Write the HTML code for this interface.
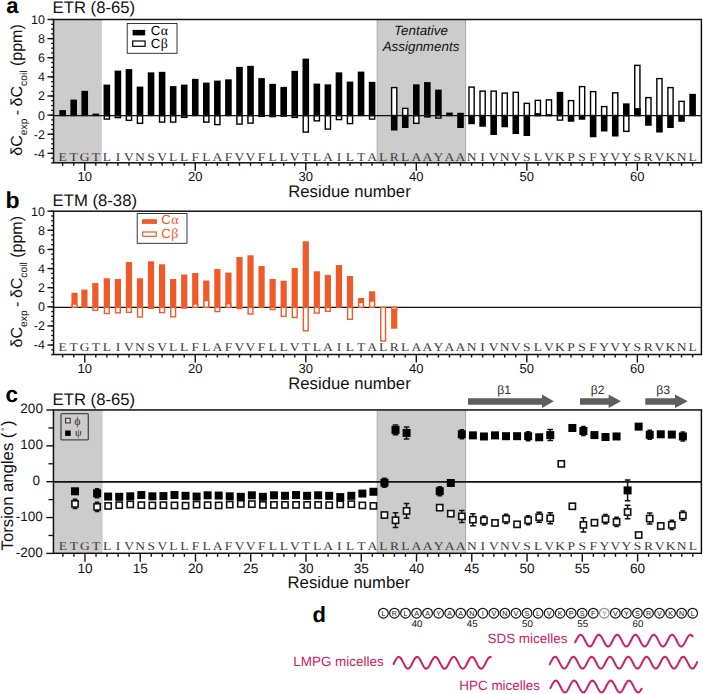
<!DOCTYPE html>
<html><head><meta charset="utf-8"><title>Figure</title>
<style>html,body{margin:0;padding:0;background:#fff;}svg{display:block;text-rendering:geometricPrecision;}.s{font-family:"Liberation Sans",sans-serif;}.m{font-family:"Liberation Mono",monospace;}.r{font-family:"Liberation Serif",serif;}</style>
</head><body>
<svg width="703" height="694" viewBox="0 0 703 694">
<rect width="703" height="694" fill="#fff"/>
<rect x="53.56" y="19.5" width="48.24" height="143.3" fill="#cccccc"/>
<rect x="377.2" y="19.5" width="88.4" height="143.3" fill="#cccccc"/>
<line x1="377.2" x2="377.2" y1="19.5" y2="162.8" stroke="#9a9a9a" stroke-width="0.8"/>
<line x1="465.6" x2="465.6" y1="19.5" y2="162.8" stroke="#9a9a9a" stroke-width="0.8"/>
<rect x="59.34" y="110.1" width="6.6" height="6.1" fill="#000"/>
<rect x="70.39" y="99.6" width="6.6" height="16.6" fill="#000"/>
<rect x="81.44" y="90.85" width="6.6" height="25.35" fill="#000"/>
<rect x="92.49" y="113.6" width="6.6" height="2.6" fill="#000"/>
<rect x="103.54" y="84.6" width="6.6" height="31.6" fill="#000"/>
<rect x="104.24" y="115.7" width="5.2" height="3.4" fill="#fff" stroke="#000" stroke-width="1.4"/>
<rect x="114.6" y="70.6" width="6.6" height="45.6" fill="#000"/>
<rect x="115.3" y="115.7" width="5.2" height="1.9" fill="#fff" stroke="#000" stroke-width="1.4"/>
<rect x="125.65" y="69.1" width="6.6" height="47.1" fill="#000"/>
<rect x="126.35" y="115.7" width="5.2" height="4.65" fill="#fff" stroke="#000" stroke-width="1.4"/>
<rect x="136.7" y="86.6" width="6.6" height="29.6" fill="#000"/>
<rect x="137.4" y="115.7" width="5.2" height="7.65" fill="#fff" stroke="#000" stroke-width="1.4"/>
<rect x="147.75" y="72.35" width="6.6" height="43.85" fill="#000"/>
<rect x="158.8" y="71.85" width="6.6" height="44.35" fill="#000"/>
<rect x="159.5" y="115.7" width="5.2" height="6.4" fill="#fff" stroke="#000" stroke-width="1.4"/>
<rect x="169.86" y="86.1" width="6.6" height="30.1" fill="#000"/>
<rect x="170.56" y="115.7" width="5.2" height="6.4" fill="#fff" stroke="#000" stroke-width="1.4"/>
<rect x="180.91" y="84.6" width="6.6" height="31.6" fill="#000"/>
<rect x="181.61" y="115.7" width="5.2" height="1.65" fill="#fff" stroke="#000" stroke-width="1.4"/>
<rect x="191.96" y="78.85" width="6.6" height="37.35" fill="#000"/>
<rect x="203.01" y="82.6" width="6.6" height="33.6" fill="#000"/>
<rect x="203.71" y="115.7" width="5.2" height="6.4" fill="#fff" stroke="#000" stroke-width="1.4"/>
<rect x="214.06" y="80.6" width="6.6" height="35.6" fill="#000"/>
<rect x="214.76" y="115.7" width="5.2" height="8.9" fill="#fff" stroke="#000" stroke-width="1.4"/>
<rect x="225.12" y="79.35" width="6.6" height="36.85" fill="#000"/>
<rect x="236.17" y="66.85" width="6.6" height="49.35" fill="#000"/>
<rect x="236.87" y="115.7" width="5.2" height="8.4" fill="#fff" stroke="#000" stroke-width="1.4"/>
<rect x="247.22" y="65.85" width="6.6" height="50.35" fill="#000"/>
<rect x="247.92" y="115.7" width="5.2" height="7.4" fill="#fff" stroke="#000" stroke-width="1.4"/>
<rect x="258.27" y="78.1" width="6.6" height="38.1" fill="#000"/>
<rect x="258.27" y="115" width="6.6" height="2.1" fill="#000"/>
<rect x="269.32" y="83.85" width="6.6" height="32.35" fill="#000"/>
<rect x="269.32" y="115" width="6.6" height="2.3" fill="#000"/>
<rect x="280.38" y="86.85" width="6.6" height="29.35" fill="#000"/>
<rect x="280.38" y="115" width="6.6" height="1.8" fill="#000"/>
<rect x="291.43" y="70.85" width="6.6" height="45.35" fill="#000"/>
<rect x="292.13" y="115.7" width="5.2" height="1.7" fill="#fff" stroke="#000" stroke-width="1.4"/>
<rect x="302.48" y="58.6" width="6.6" height="57.6" fill="#000"/>
<rect x="303.18" y="115.7" width="5.2" height="16.4" fill="#fff" stroke="#000" stroke-width="1.4"/>
<rect x="313.53" y="83.6" width="6.6" height="32.6" fill="#000"/>
<rect x="314.23" y="115.7" width="5.2" height="5.15" fill="#fff" stroke="#000" stroke-width="1.4"/>
<rect x="324.58" y="84.35" width="6.6" height="31.85" fill="#000"/>
<rect x="325.28" y="115.7" width="5.2" height="13.4" fill="#fff" stroke="#000" stroke-width="1.4"/>
<rect x="335.64" y="72.35" width="6.6" height="43.85" fill="#000"/>
<rect x="336.34" y="115.7" width="5.2" height="3.9" fill="#fff" stroke="#000" stroke-width="1.4"/>
<rect x="346.69" y="81.6" width="6.6" height="34.6" fill="#000"/>
<rect x="347.39" y="115.7" width="5.2" height="7.9" fill="#fff" stroke="#000" stroke-width="1.4"/>
<rect x="357.74" y="71.6" width="6.6" height="44.6" fill="#000"/>
<rect x="368.79" y="81.85" width="6.6" height="34.35" fill="#000"/>
<rect x="369.49" y="115.7" width="5.2" height="3.4" fill="#fff" stroke="#000" stroke-width="1.4"/>
<rect x="391.6" y="87.6" width="5.2" height="27.9" fill="#fff" stroke="#000" stroke-width="1.4"/>
<rect x="390.9" y="115" width="6.6" height="15.5" fill="#000"/>
<rect x="401.95" y="115" width="6.6" height="13" fill="#000"/>
<rect x="402.65" y="108.35" width="5.2" height="7.15" fill="#fff" stroke="#000" stroke-width="1.4"/>
<rect x="413" y="84.35" width="6.6" height="31.85" fill="#000"/>
<rect x="413.7" y="115.7" width="5.2" height="7.65" fill="#fff" stroke="#000" stroke-width="1.4"/>
<rect x="424.05" y="82.1" width="6.6" height="34.1" fill="#000"/>
<rect x="424.75" y="115.7" width="5.2" height="1.2" fill="#fff" stroke="#000" stroke-width="1.4"/>
<rect x="435.1" y="89.6" width="6.6" height="26.6" fill="#000"/>
<rect x="435.8" y="115.7" width="5.2" height="2.4" fill="#fff" stroke="#000" stroke-width="1.4"/>
<rect x="446.16" y="112.6" width="6.6" height="3.6" fill="#000"/>
<rect x="457.21" y="115" width="6.6" height="13" fill="#000"/>
<rect x="468.96" y="87.1" width="5.2" height="28.4" fill="#fff" stroke="#000" stroke-width="1.4"/>
<rect x="468.26" y="115" width="6.6" height="9.25" fill="#000"/>
<rect x="480.01" y="91.1" width="5.2" height="24.4" fill="#fff" stroke="#000" stroke-width="1.4"/>
<rect x="479.31" y="115" width="6.6" height="11.75" fill="#000"/>
<rect x="491.06" y="91.1" width="5.2" height="24.4" fill="#fff" stroke="#000" stroke-width="1.4"/>
<rect x="490.36" y="115" width="6.6" height="20" fill="#000"/>
<rect x="502.12" y="93.1" width="5.2" height="22.4" fill="#fff" stroke="#000" stroke-width="1.4"/>
<rect x="501.42" y="115" width="6.6" height="12.25" fill="#000"/>
<rect x="513.17" y="92.35" width="5.2" height="23.15" fill="#fff" stroke="#000" stroke-width="1.4"/>
<rect x="512.47" y="115" width="6.6" height="19" fill="#000"/>
<rect x="523.52" y="115" width="6.6" height="21" fill="#000"/>
<rect x="524.22" y="103.35" width="5.2" height="12.15" fill="#fff" stroke="#000" stroke-width="1.4"/>
<rect x="535.27" y="100.35" width="5.2" height="15.15" fill="#fff" stroke="#000" stroke-width="1.4"/>
<rect x="534.57" y="113.1" width="6.6" height="3.1" fill="#000"/>
<rect x="546.32" y="99.85" width="5.2" height="15.65" fill="#fff" stroke="#000" stroke-width="1.4"/>
<rect x="545.62" y="114.1" width="6.6" height="2.1" fill="#000"/>
<rect x="556.68" y="91.85" width="6.6" height="24.35" fill="#000"/>
<rect x="557.38" y="115.7" width="5.2" height="4.4" fill="#fff" stroke="#000" stroke-width="1.4"/>
<rect x="568.43" y="100.6" width="5.2" height="14.9" fill="#fff" stroke="#000" stroke-width="1.4"/>
<rect x="567.73" y="115" width="6.6" height="6.75" fill="#000"/>
<rect x="579.48" y="86.6" width="5.2" height="28.9" fill="#fff" stroke="#000" stroke-width="1.4"/>
<rect x="578.78" y="115" width="6.6" height="4.75" fill="#000"/>
<rect x="590.53" y="91.6" width="5.2" height="23.9" fill="#fff" stroke="#000" stroke-width="1.4"/>
<rect x="589.83" y="115" width="6.6" height="22.25" fill="#000"/>
<rect x="600.88" y="115" width="6.6" height="16.5" fill="#000"/>
<rect x="601.58" y="106.6" width="5.2" height="8.9" fill="#fff" stroke="#000" stroke-width="1.4"/>
<rect x="612.64" y="92.85" width="5.2" height="22.65" fill="#fff" stroke="#000" stroke-width="1.4"/>
<rect x="611.94" y="115" width="6.6" height="21.5" fill="#000"/>
<rect x="623.69" y="115.7" width="5.2" height="15.65" fill="#fff" stroke="#000" stroke-width="1.4"/>
<rect x="622.99" y="103.35" width="6.6" height="12.85" fill="#000"/>
<rect x="634.74" y="65.35" width="5.2" height="50.15" fill="#fff" stroke="#000" stroke-width="1.4"/>
<rect x="634.04" y="108.1" width="6.6" height="8.1" fill="#000"/>
<rect x="645.79" y="97.6" width="5.2" height="17.9" fill="#fff" stroke="#000" stroke-width="1.4"/>
<rect x="645.09" y="115" width="6.6" height="10.75" fill="#000"/>
<rect x="656.84" y="78.6" width="5.2" height="36.9" fill="#fff" stroke="#000" stroke-width="1.4"/>
<rect x="656.14" y="115" width="6.6" height="17.5" fill="#000"/>
<rect x="667.9" y="87.6" width="5.2" height="27.9" fill="#fff" stroke="#000" stroke-width="1.4"/>
<rect x="667.2" y="115" width="6.6" height="13" fill="#000"/>
<rect x="678.95" y="101.35" width="5.2" height="14.15" fill="#fff" stroke="#000" stroke-width="1.4"/>
<rect x="678.25" y="115" width="6.6" height="6.75" fill="#000"/>
<rect x="689.3" y="93.85" width="6.6" height="22.35" fill="#000"/>
<rect x="457.21" y="112.8" width="6.6" height="3" fill="#000"/>
<text transform="translate(62.64,160.6) scale(1.14,1)" class="r" font-size="11.9" fill="#3a3a3a" text-anchor="middle">E</text>
<text transform="translate(73.69,160.6) scale(1.14,1)" class="r" font-size="11.9" fill="#3a3a3a" text-anchor="middle">T</text>
<text transform="translate(84.74,160.6) scale(1.14,1)" class="r" font-size="11.9" fill="#3a3a3a" text-anchor="middle">G</text>
<text transform="translate(95.79,160.6) scale(1.14,1)" class="r" font-size="11.9" fill="#3a3a3a" text-anchor="middle">T</text>
<text transform="translate(106.84,160.6) scale(1.14,1)" class="r" font-size="11.9" fill="#3a3a3a" text-anchor="middle">L</text>
<text transform="translate(117.9,160.6) scale(1.14,1)" class="r" font-size="11.9" fill="#3a3a3a" text-anchor="middle">I</text>
<text transform="translate(128.95,160.6) scale(1.14,1)" class="r" font-size="11.9" fill="#3a3a3a" text-anchor="middle">V</text>
<text transform="translate(140,160.6) scale(1.14,1)" class="r" font-size="11.9" fill="#3a3a3a" text-anchor="middle">N</text>
<text transform="translate(151.05,160.6) scale(1.14,1)" class="r" font-size="11.9" fill="#3a3a3a" text-anchor="middle">S</text>
<text transform="translate(162.1,160.6) scale(1.14,1)" class="r" font-size="11.9" fill="#3a3a3a" text-anchor="middle">V</text>
<text transform="translate(173.16,160.6) scale(1.14,1)" class="r" font-size="11.9" fill="#3a3a3a" text-anchor="middle">L</text>
<text transform="translate(184.21,160.6) scale(1.14,1)" class="r" font-size="11.9" fill="#3a3a3a" text-anchor="middle">L</text>
<text transform="translate(195.26,160.6) scale(1.14,1)" class="r" font-size="11.9" fill="#3a3a3a" text-anchor="middle">F</text>
<text transform="translate(206.31,160.6) scale(1.14,1)" class="r" font-size="11.9" fill="#3a3a3a" text-anchor="middle">L</text>
<text transform="translate(217.36,160.6) scale(1.14,1)" class="r" font-size="11.9" fill="#3a3a3a" text-anchor="middle">A</text>
<text transform="translate(228.42,160.6) scale(1.14,1)" class="r" font-size="11.9" fill="#3a3a3a" text-anchor="middle">F</text>
<text transform="translate(239.47,160.6) scale(1.14,1)" class="r" font-size="11.9" fill="#3a3a3a" text-anchor="middle">V</text>
<text transform="translate(250.52,160.6) scale(1.14,1)" class="r" font-size="11.9" fill="#3a3a3a" text-anchor="middle">V</text>
<text transform="translate(261.57,160.6) scale(1.14,1)" class="r" font-size="11.9" fill="#3a3a3a" text-anchor="middle">F</text>
<text transform="translate(272.62,160.6) scale(1.14,1)" class="r" font-size="11.9" fill="#3a3a3a" text-anchor="middle">L</text>
<text transform="translate(283.68,160.6) scale(1.14,1)" class="r" font-size="11.9" fill="#3a3a3a" text-anchor="middle">L</text>
<text transform="translate(294.73,160.6) scale(1.14,1)" class="r" font-size="11.9" fill="#3a3a3a" text-anchor="middle">V</text>
<text transform="translate(305.78,160.6) scale(1.14,1)" class="r" font-size="11.9" fill="#3a3a3a" text-anchor="middle">T</text>
<text transform="translate(316.83,160.6) scale(1.14,1)" class="r" font-size="11.9" fill="#3a3a3a" text-anchor="middle">L</text>
<text transform="translate(327.88,160.6) scale(1.14,1)" class="r" font-size="11.9" fill="#3a3a3a" text-anchor="middle">A</text>
<text transform="translate(338.94,160.6) scale(1.14,1)" class="r" font-size="11.9" fill="#3a3a3a" text-anchor="middle">I</text>
<text transform="translate(349.99,160.6) scale(1.14,1)" class="r" font-size="11.9" fill="#3a3a3a" text-anchor="middle">L</text>
<text transform="translate(361.04,160.6) scale(1.14,1)" class="r" font-size="11.9" fill="#3a3a3a" text-anchor="middle">T</text>
<text transform="translate(372.09,160.6) scale(1.14,1)" class="r" font-size="11.9" fill="#3a3a3a" text-anchor="middle">A</text>
<text transform="translate(383.14,160.6) scale(1.14,1)" class="r" font-size="11.9" fill="#3a3a3a" text-anchor="middle">L</text>
<text transform="translate(394.2,160.6) scale(1.14,1)" class="r" font-size="11.9" fill="#3a3a3a" text-anchor="middle">R</text>
<text transform="translate(405.25,160.6) scale(1.14,1)" class="r" font-size="11.9" fill="#3a3a3a" text-anchor="middle">L</text>
<text transform="translate(416.3,160.6) scale(1.14,1)" class="r" font-size="11.9" fill="#3a3a3a" text-anchor="middle">A</text>
<text transform="translate(427.35,160.6) scale(1.14,1)" class="r" font-size="11.9" fill="#3a3a3a" text-anchor="middle">A</text>
<text transform="translate(438.4,160.6) scale(1.14,1)" class="r" font-size="11.9" fill="#3a3a3a" text-anchor="middle">Y</text>
<text transform="translate(449.46,160.6) scale(1.14,1)" class="r" font-size="11.9" fill="#3a3a3a" text-anchor="middle">A</text>
<text transform="translate(460.51,160.6) scale(1.14,1)" class="r" font-size="11.9" fill="#3a3a3a" text-anchor="middle">A</text>
<text transform="translate(471.56,160.6) scale(1.14,1)" class="r" font-size="11.9" fill="#3a3a3a" text-anchor="middle">N</text>
<text transform="translate(482.61,160.6) scale(1.14,1)" class="r" font-size="11.9" fill="#3a3a3a" text-anchor="middle">I</text>
<text transform="translate(493.66,160.6) scale(1.14,1)" class="r" font-size="11.9" fill="#3a3a3a" text-anchor="middle">V</text>
<text transform="translate(504.72,160.6) scale(1.14,1)" class="r" font-size="11.9" fill="#3a3a3a" text-anchor="middle">N</text>
<text transform="translate(515.77,160.6) scale(1.14,1)" class="r" font-size="11.9" fill="#3a3a3a" text-anchor="middle">V</text>
<text transform="translate(526.82,160.6) scale(1.14,1)" class="r" font-size="11.9" fill="#3a3a3a" text-anchor="middle">S</text>
<text transform="translate(537.87,160.6) scale(1.14,1)" class="r" font-size="11.9" fill="#3a3a3a" text-anchor="middle">L</text>
<text transform="translate(548.92,160.6) scale(1.14,1)" class="r" font-size="11.9" fill="#3a3a3a" text-anchor="middle">V</text>
<text transform="translate(559.98,160.6) scale(1.14,1)" class="r" font-size="11.9" fill="#3a3a3a" text-anchor="middle">K</text>
<text transform="translate(571.03,160.6) scale(1.14,1)" class="r" font-size="11.9" fill="#3a3a3a" text-anchor="middle">P</text>
<text transform="translate(582.08,160.6) scale(1.14,1)" class="r" font-size="11.9" fill="#3a3a3a" text-anchor="middle">S</text>
<text transform="translate(593.13,160.6) scale(1.14,1)" class="r" font-size="11.9" fill="#3a3a3a" text-anchor="middle">F</text>
<text transform="translate(604.18,160.6) scale(1.14,1)" class="r" font-size="11.9" fill="#3a3a3a" text-anchor="middle">Y</text>
<text transform="translate(615.24,160.6) scale(1.14,1)" class="r" font-size="11.9" fill="#3a3a3a" text-anchor="middle">V</text>
<text transform="translate(626.29,160.6) scale(1.14,1)" class="r" font-size="11.9" fill="#3a3a3a" text-anchor="middle">Y</text>
<text transform="translate(637.34,160.6) scale(1.14,1)" class="r" font-size="11.9" fill="#3a3a3a" text-anchor="middle">S</text>
<text transform="translate(648.39,160.6) scale(1.14,1)" class="r" font-size="11.9" fill="#3a3a3a" text-anchor="middle">R</text>
<text transform="translate(659.44,160.6) scale(1.14,1)" class="r" font-size="11.9" fill="#3a3a3a" text-anchor="middle">V</text>
<text transform="translate(670.5,160.6) scale(1.14,1)" class="r" font-size="11.9" fill="#3a3a3a" text-anchor="middle">K</text>
<text transform="translate(681.55,160.6) scale(1.14,1)" class="r" font-size="11.9" fill="#3a3a3a" text-anchor="middle">N</text>
<text transform="translate(692.6,160.6) scale(1.14,1)" class="r" font-size="11.9" fill="#3a3a3a" text-anchor="middle">L</text>
<rect x="53.56" y="19.5" width="647.84" height="143.3" fill="none" stroke="#111" stroke-width="1.5"/>
<line x1="53.56" x2="701.4" y1="115.6" y2="115.6" stroke="#111" stroke-width="1.3"/>
<line x1="51.16" x2="53.56" y1="162.9" y2="162.9" stroke="#111" stroke-width="1.3"/>
<line x1="51.16" x2="53.56" y1="158.12" y2="158.12" stroke="#111" stroke-width="1.3"/>
<line x1="51.16" x2="53.56" y1="153.34" y2="153.34" stroke="#111" stroke-width="1.3"/>
<line x1="51.16" x2="53.56" y1="148.56" y2="148.56" stroke="#111" stroke-width="1.3"/>
<line x1="51.16" x2="53.56" y1="143.78" y2="143.78" stroke="#111" stroke-width="1.3"/>
<line x1="51.16" x2="53.56" y1="139" y2="139" stroke="#111" stroke-width="1.3"/>
<line x1="51.16" x2="53.56" y1="134.22" y2="134.22" stroke="#111" stroke-width="1.3"/>
<line x1="51.16" x2="53.56" y1="129.44" y2="129.44" stroke="#111" stroke-width="1.3"/>
<line x1="51.16" x2="53.56" y1="124.66" y2="124.66" stroke="#111" stroke-width="1.3"/>
<line x1="51.16" x2="53.56" y1="119.88" y2="119.88" stroke="#111" stroke-width="1.3"/>
<line x1="51.16" x2="53.56" y1="115.1" y2="115.1" stroke="#111" stroke-width="1.3"/>
<line x1="51.16" x2="53.56" y1="110.32" y2="110.32" stroke="#111" stroke-width="1.3"/>
<line x1="51.16" x2="53.56" y1="105.54" y2="105.54" stroke="#111" stroke-width="1.3"/>
<line x1="51.16" x2="53.56" y1="100.76" y2="100.76" stroke="#111" stroke-width="1.3"/>
<line x1="51.16" x2="53.56" y1="95.98" y2="95.98" stroke="#111" stroke-width="1.3"/>
<line x1="51.16" x2="53.56" y1="91.2" y2="91.2" stroke="#111" stroke-width="1.3"/>
<line x1="51.16" x2="53.56" y1="86.42" y2="86.42" stroke="#111" stroke-width="1.3"/>
<line x1="51.16" x2="53.56" y1="81.64" y2="81.64" stroke="#111" stroke-width="1.3"/>
<line x1="51.16" x2="53.56" y1="76.86" y2="76.86" stroke="#111" stroke-width="1.3"/>
<line x1="51.16" x2="53.56" y1="72.08" y2="72.08" stroke="#111" stroke-width="1.3"/>
<line x1="51.16" x2="53.56" y1="67.3" y2="67.3" stroke="#111" stroke-width="1.3"/>
<line x1="51.16" x2="53.56" y1="62.52" y2="62.52" stroke="#111" stroke-width="1.3"/>
<line x1="51.16" x2="53.56" y1="57.74" y2="57.74" stroke="#111" stroke-width="1.3"/>
<line x1="51.16" x2="53.56" y1="52.96" y2="52.96" stroke="#111" stroke-width="1.3"/>
<line x1="51.16" x2="53.56" y1="48.18" y2="48.18" stroke="#111" stroke-width="1.3"/>
<line x1="51.16" x2="53.56" y1="43.4" y2="43.4" stroke="#111" stroke-width="1.3"/>
<line x1="51.16" x2="53.56" y1="38.62" y2="38.62" stroke="#111" stroke-width="1.3"/>
<line x1="51.16" x2="53.56" y1="33.84" y2="33.84" stroke="#111" stroke-width="1.3"/>
<line x1="51.16" x2="53.56" y1="29.06" y2="29.06" stroke="#111" stroke-width="1.3"/>
<line x1="51.16" x2="53.56" y1="24.28" y2="24.28" stroke="#111" stroke-width="1.3"/>
<line x1="51.16" x2="53.56" y1="19.5" y2="19.5" stroke="#111" stroke-width="1.3"/>
<line x1="47.46" x2="53.56" y1="19.5" y2="19.5" stroke="#111" stroke-width="1.4"/>
<text x="44.9" y="23.95" class="s" font-size="12.5" fill="#111" text-anchor="end">10</text>
<line x1="47.46" x2="53.56" y1="38.62" y2="38.62" stroke="#111" stroke-width="1.4"/>
<text x="44.9" y="43.07" class="s" font-size="12.5" fill="#111" text-anchor="end">8</text>
<line x1="47.46" x2="53.56" y1="57.74" y2="57.74" stroke="#111" stroke-width="1.4"/>
<text x="44.9" y="62.19" class="s" font-size="12.5" fill="#111" text-anchor="end">6</text>
<line x1="47.46" x2="53.56" y1="76.86" y2="76.86" stroke="#111" stroke-width="1.4"/>
<text x="44.9" y="81.31" class="s" font-size="12.5" fill="#111" text-anchor="end">4</text>
<line x1="47.46" x2="53.56" y1="95.98" y2="95.98" stroke="#111" stroke-width="1.4"/>
<text x="44.9" y="100.43" class="s" font-size="12.5" fill="#111" text-anchor="end">2</text>
<line x1="47.46" x2="53.56" y1="115.1" y2="115.1" stroke="#111" stroke-width="1.4"/>
<text x="44.9" y="119.55" class="s" font-size="12.5" fill="#111" text-anchor="end">0</text>
<line x1="47.46" x2="53.56" y1="134.22" y2="134.22" stroke="#111" stroke-width="1.4"/>
<text x="44.9" y="138.67" class="s" font-size="12.5" fill="#111" text-anchor="end">-2</text>
<line x1="47.46" x2="53.56" y1="153.34" y2="153.34" stroke="#111" stroke-width="1.4"/>
<text x="44.9" y="157.79" class="s" font-size="12.5" fill="#111" text-anchor="end">-4</text>
<line x1="62.64" x2="62.64" y1="162.8" y2="165.8" stroke="#111" stroke-width="1.4"/>
<line x1="73.69" x2="73.69" y1="162.8" y2="165.8" stroke="#111" stroke-width="1.4"/>
<line x1="84.74" x2="84.74" y1="162.8" y2="170.7" stroke="#111" stroke-width="1.4"/>
<line x1="95.79" x2="95.79" y1="162.8" y2="165.8" stroke="#111" stroke-width="1.4"/>
<line x1="106.84" x2="106.84" y1="162.8" y2="165.8" stroke="#111" stroke-width="1.4"/>
<line x1="117.9" x2="117.9" y1="162.8" y2="165.8" stroke="#111" stroke-width="1.4"/>
<line x1="128.95" x2="128.95" y1="162.8" y2="165.8" stroke="#111" stroke-width="1.4"/>
<line x1="140" x2="140" y1="162.8" y2="165.8" stroke="#111" stroke-width="1.4"/>
<line x1="151.05" x2="151.05" y1="162.8" y2="165.8" stroke="#111" stroke-width="1.4"/>
<line x1="162.1" x2="162.1" y1="162.8" y2="165.8" stroke="#111" stroke-width="1.4"/>
<line x1="173.16" x2="173.16" y1="162.8" y2="165.8" stroke="#111" stroke-width="1.4"/>
<line x1="184.21" x2="184.21" y1="162.8" y2="165.8" stroke="#111" stroke-width="1.4"/>
<line x1="195.26" x2="195.26" y1="162.8" y2="170.7" stroke="#111" stroke-width="1.4"/>
<line x1="206.31" x2="206.31" y1="162.8" y2="165.8" stroke="#111" stroke-width="1.4"/>
<line x1="217.36" x2="217.36" y1="162.8" y2="165.8" stroke="#111" stroke-width="1.4"/>
<line x1="228.42" x2="228.42" y1="162.8" y2="165.8" stroke="#111" stroke-width="1.4"/>
<line x1="239.47" x2="239.47" y1="162.8" y2="165.8" stroke="#111" stroke-width="1.4"/>
<line x1="250.52" x2="250.52" y1="162.8" y2="165.8" stroke="#111" stroke-width="1.4"/>
<line x1="261.57" x2="261.57" y1="162.8" y2="165.8" stroke="#111" stroke-width="1.4"/>
<line x1="272.62" x2="272.62" y1="162.8" y2="165.8" stroke="#111" stroke-width="1.4"/>
<line x1="283.68" x2="283.68" y1="162.8" y2="165.8" stroke="#111" stroke-width="1.4"/>
<line x1="294.73" x2="294.73" y1="162.8" y2="165.8" stroke="#111" stroke-width="1.4"/>
<line x1="305.78" x2="305.78" y1="162.8" y2="170.7" stroke="#111" stroke-width="1.4"/>
<line x1="316.83" x2="316.83" y1="162.8" y2="165.8" stroke="#111" stroke-width="1.4"/>
<line x1="327.88" x2="327.88" y1="162.8" y2="165.8" stroke="#111" stroke-width="1.4"/>
<line x1="338.94" x2="338.94" y1="162.8" y2="165.8" stroke="#111" stroke-width="1.4"/>
<line x1="349.99" x2="349.99" y1="162.8" y2="165.8" stroke="#111" stroke-width="1.4"/>
<line x1="361.04" x2="361.04" y1="162.8" y2="165.8" stroke="#111" stroke-width="1.4"/>
<line x1="372.09" x2="372.09" y1="162.8" y2="165.8" stroke="#111" stroke-width="1.4"/>
<line x1="383.14" x2="383.14" y1="162.8" y2="165.8" stroke="#111" stroke-width="1.4"/>
<line x1="394.2" x2="394.2" y1="162.8" y2="165.8" stroke="#111" stroke-width="1.4"/>
<line x1="405.25" x2="405.25" y1="162.8" y2="165.8" stroke="#111" stroke-width="1.4"/>
<line x1="416.3" x2="416.3" y1="162.8" y2="170.7" stroke="#111" stroke-width="1.4"/>
<line x1="427.35" x2="427.35" y1="162.8" y2="165.8" stroke="#111" stroke-width="1.4"/>
<line x1="438.4" x2="438.4" y1="162.8" y2="165.8" stroke="#111" stroke-width="1.4"/>
<line x1="449.46" x2="449.46" y1="162.8" y2="165.8" stroke="#111" stroke-width="1.4"/>
<line x1="460.51" x2="460.51" y1="162.8" y2="165.8" stroke="#111" stroke-width="1.4"/>
<line x1="471.56" x2="471.56" y1="162.8" y2="165.8" stroke="#111" stroke-width="1.4"/>
<line x1="482.61" x2="482.61" y1="162.8" y2="165.8" stroke="#111" stroke-width="1.4"/>
<line x1="493.66" x2="493.66" y1="162.8" y2="165.8" stroke="#111" stroke-width="1.4"/>
<line x1="504.72" x2="504.72" y1="162.8" y2="165.8" stroke="#111" stroke-width="1.4"/>
<line x1="515.77" x2="515.77" y1="162.8" y2="165.8" stroke="#111" stroke-width="1.4"/>
<line x1="526.82" x2="526.82" y1="162.8" y2="170.7" stroke="#111" stroke-width="1.4"/>
<line x1="537.87" x2="537.87" y1="162.8" y2="165.8" stroke="#111" stroke-width="1.4"/>
<line x1="548.92" x2="548.92" y1="162.8" y2="165.8" stroke="#111" stroke-width="1.4"/>
<line x1="559.98" x2="559.98" y1="162.8" y2="165.8" stroke="#111" stroke-width="1.4"/>
<line x1="571.03" x2="571.03" y1="162.8" y2="165.8" stroke="#111" stroke-width="1.4"/>
<line x1="582.08" x2="582.08" y1="162.8" y2="165.8" stroke="#111" stroke-width="1.4"/>
<line x1="593.13" x2="593.13" y1="162.8" y2="165.8" stroke="#111" stroke-width="1.4"/>
<line x1="604.18" x2="604.18" y1="162.8" y2="165.8" stroke="#111" stroke-width="1.4"/>
<line x1="615.24" x2="615.24" y1="162.8" y2="165.8" stroke="#111" stroke-width="1.4"/>
<line x1="626.29" x2="626.29" y1="162.8" y2="165.8" stroke="#111" stroke-width="1.4"/>
<line x1="637.34" x2="637.34" y1="162.8" y2="170.7" stroke="#111" stroke-width="1.4"/>
<line x1="648.39" x2="648.39" y1="162.8" y2="165.8" stroke="#111" stroke-width="1.4"/>
<line x1="659.44" x2="659.44" y1="162.8" y2="165.8" stroke="#111" stroke-width="1.4"/>
<line x1="670.5" x2="670.5" y1="162.8" y2="165.8" stroke="#111" stroke-width="1.4"/>
<line x1="681.55" x2="681.55" y1="162.8" y2="165.8" stroke="#111" stroke-width="1.4"/>
<line x1="692.6" x2="692.6" y1="162.8" y2="165.8" stroke="#111" stroke-width="1.4"/>
<text x="84.74" y="181.2" class="s" font-size="13" fill="#111" text-anchor="middle">10</text>
<text x="195.26" y="181.2" class="s" font-size="13" fill="#111" text-anchor="middle">20</text>
<text x="305.78" y="181.2" class="s" font-size="13" fill="#111" text-anchor="middle">30</text>
<text x="416.3" y="181.2" class="s" font-size="13" fill="#111" text-anchor="middle">40</text>
<text x="526.82" y="181.2" class="s" font-size="13" fill="#111" text-anchor="middle">50</text>
<text x="637.34" y="181.2" class="s" font-size="13" fill="#111" text-anchor="middle">60</text>
<text x="6.2" y="12.7" class="s" font-weight="bold" font-size="22" fill="#000">a</text>
<text x="52.6" y="12.7" class="s" font-size="16.7" fill="#111">ETR (8-65)</text>
<text x="349.5" y="196.8" class="s" font-size="16.7" fill="#111" text-anchor="middle">Residue number</text>
<text transform="translate(21.9,90) rotate(-90)" class="s" font-size="16" fill="#111" text-anchor="middle">δC<tspan font-size="10.3" dy="5.3">exp</tspan><tspan dy="-5.3" dx="-1" xml:space="preserve"> -</tspan><tspan dx="-1" xml:space="preserve"> δC</tspan><tspan font-size="10.3" dy="5.3">coil</tspan><tspan dy="-5.3" xml:space="preserve"> (ppm)</tspan></text>
<text x="421" y="34.5" class="s" font-style="italic" font-size="13.4" fill="#111" text-anchor="middle">Tentative</text>
<text x="421" y="50.5" class="s" font-style="italic" font-size="13.4" fill="#111" text-anchor="middle">Assignments</text>
<rect x="127.2" y="23.5" width="49.8" height="29.8" fill="#fff" stroke="#222" stroke-width="0.9"/>
<rect x="132.6" y="29.9" width="12.6" height="5.5" fill="#000"/>
<rect x="132.7" y="41" width="12.4" height="5.3" fill="#fff" stroke="#000" stroke-width="1.2"/>
<text x="150.7" y="34.8" class="s" font-size="13.2" fill="#000">C<tspan class="r" font-size="13.8" dx="0.4">α</tspan></text>
<text x="150.7" y="47.9" class="s" font-size="13.2" fill="#000">C<tspan class="r" font-size="13.8" dx="0.4">β</tspan></text>
<line x1="53.56" x2="701.4" y1="307.3" y2="307.3" stroke="#111" stroke-width="1.3"/>
<rect x="71.44" y="292.8" width="6.2" height="15.1" fill="#f05a28"/>
<rect x="72.14" y="304.05" width="4.8" height="3.15" fill="#fff" stroke="#f05a28" stroke-width="1.4"/>
<rect x="81.34" y="289.55" width="6.2" height="18.35" fill="#f05a28"/>
<rect x="92.19" y="283.05" width="6.2" height="24.85" fill="#f05a28"/>
<rect x="92.89" y="307.4" width="4.8" height="2.9" fill="#fff" stroke="#f05a28" stroke-width="1.4"/>
<rect x="103.74" y="278.3" width="6.2" height="29.6" fill="#f05a28"/>
<rect x="104.44" y="307.4" width="4.8" height="6.15" fill="#fff" stroke="#f05a28" stroke-width="1.4"/>
<rect x="114.8" y="279.05" width="6.2" height="28.85" fill="#f05a28"/>
<rect x="115.5" y="307.4" width="4.8" height="5.4" fill="#fff" stroke="#f05a28" stroke-width="1.4"/>
<rect x="125.85" y="262.05" width="6.2" height="45.85" fill="#f05a28"/>
<rect x="126.55" y="307.4" width="4.8" height="4.9" fill="#fff" stroke="#f05a28" stroke-width="1.4"/>
<rect x="136.9" y="278.3" width="6.2" height="29.6" fill="#f05a28"/>
<rect x="137.6" y="307.4" width="4.8" height="9.65" fill="#fff" stroke="#f05a28" stroke-width="1.4"/>
<rect x="147.95" y="261.3" width="6.2" height="46.6" fill="#f05a28"/>
<rect x="147.95" y="306.7" width="6.2" height="2.3" fill="#f05a28"/>
<rect x="159" y="264.3" width="6.2" height="43.6" fill="#f05a28"/>
<rect x="159.7" y="307.4" width="4.8" height="5.15" fill="#fff" stroke="#f05a28" stroke-width="1.4"/>
<rect x="170.06" y="279.05" width="6.2" height="28.85" fill="#f05a28"/>
<rect x="170.76" y="307.4" width="4.8" height="9.4" fill="#fff" stroke="#f05a28" stroke-width="1.4"/>
<rect x="181.11" y="274.55" width="6.2" height="33.35" fill="#f05a28"/>
<rect x="181.11" y="306.7" width="6.2" height="2.05" fill="#f05a28"/>
<rect x="192.16" y="273.05" width="6.2" height="34.85" fill="#f05a28"/>
<rect x="192.86" y="304.05" width="4.8" height="3.15" fill="#fff" stroke="#f05a28" stroke-width="1.4"/>
<rect x="203.21" y="280.55" width="6.2" height="27.35" fill="#f05a28"/>
<rect x="203.91" y="300.55" width="4.8" height="6.65" fill="#fff" stroke="#f05a28" stroke-width="1.4"/>
<rect x="214.26" y="269.05" width="6.2" height="38.85" fill="#f05a28"/>
<rect x="214.96" y="307.4" width="4.8" height="4.15" fill="#fff" stroke="#f05a28" stroke-width="1.4"/>
<rect x="225.32" y="272.55" width="6.2" height="35.35" fill="#f05a28"/>
<rect x="226.02" y="303.8" width="4.8" height="3.4" fill="#fff" stroke="#f05a28" stroke-width="1.4"/>
<rect x="236.37" y="257.05" width="6.2" height="50.85" fill="#f05a28"/>
<rect x="237.07" y="307.4" width="4.8" height="1.15" fill="#fff" stroke="#f05a28" stroke-width="1.4"/>
<rect x="247.42" y="255.3" width="6.2" height="52.6" fill="#f05a28"/>
<rect x="248.12" y="307.4" width="4.8" height="6.65" fill="#fff" stroke="#f05a28" stroke-width="1.4"/>
<rect x="258.47" y="266.05" width="6.2" height="41.85" fill="#f05a28"/>
<rect x="269.52" y="279.05" width="6.2" height="28.85" fill="#f05a28"/>
<rect x="270.22" y="307.4" width="4.8" height="2.15" fill="#fff" stroke="#f05a28" stroke-width="1.4"/>
<rect x="280.58" y="280.8" width="6.2" height="27.1" fill="#f05a28"/>
<rect x="281.28" y="307.4" width="4.8" height="8.9" fill="#fff" stroke="#f05a28" stroke-width="1.4"/>
<rect x="291.63" y="268.05" width="6.2" height="39.85" fill="#f05a28"/>
<rect x="292.33" y="307.4" width="4.8" height="10.15" fill="#fff" stroke="#f05a28" stroke-width="1.4"/>
<rect x="302.68" y="241.3" width="6.2" height="66.6" fill="#f05a28"/>
<rect x="303.38" y="307.4" width="4.8" height="23.4" fill="#fff" stroke="#f05a28" stroke-width="1.4"/>
<rect x="313.73" y="271.3" width="6.2" height="36.6" fill="#f05a28"/>
<rect x="314.43" y="307.4" width="4.8" height="5.65" fill="#fff" stroke="#f05a28" stroke-width="1.4"/>
<rect x="324.78" y="275.05" width="6.2" height="32.85" fill="#f05a28"/>
<rect x="325.48" y="307.4" width="4.8" height="3.9" fill="#fff" stroke="#f05a28" stroke-width="1.4"/>
<rect x="335.84" y="265.05" width="6.2" height="42.85" fill="#f05a28"/>
<rect x="346.89" y="276.05" width="6.2" height="31.85" fill="#f05a28"/>
<rect x="347.59" y="307.4" width="4.8" height="11.9" fill="#fff" stroke="#f05a28" stroke-width="1.4"/>
<rect x="357.94" y="298.05" width="6.2" height="9.85" fill="#f05a28"/>
<rect x="358.64" y="302.55" width="4.8" height="4.65" fill="#fff" stroke="#f05a28" stroke-width="1.4"/>
<rect x="368.99" y="291.3" width="6.2" height="16.6" fill="#f05a28"/>
<rect x="369.69" y="301.05" width="4.8" height="6.15" fill="#fff" stroke="#f05a28" stroke-width="1.4"/>
<rect x="380.74" y="307.4" width="4.8" height="33.65" fill="#fff" stroke="#f05a28" stroke-width="1.4"/>
<rect x="391.1" y="306.7" width="6.2" height="22" fill="#f05a28"/>
<rect x="391.8" y="307.4" width="4.8" height="2.15" fill="#fff" stroke="#f05a28" stroke-width="1.4"/>
<text transform="translate(62.64,351) scale(1.14,1)" class="r" font-size="11.9" fill="#3a3a3a" text-anchor="middle">E</text>
<text transform="translate(73.69,351) scale(1.14,1)" class="r" font-size="11.9" fill="#3a3a3a" text-anchor="middle">T</text>
<text transform="translate(84.74,351) scale(1.14,1)" class="r" font-size="11.9" fill="#3a3a3a" text-anchor="middle">G</text>
<text transform="translate(95.79,351) scale(1.14,1)" class="r" font-size="11.9" fill="#3a3a3a" text-anchor="middle">T</text>
<text transform="translate(106.84,351) scale(1.14,1)" class="r" font-size="11.9" fill="#3a3a3a" text-anchor="middle">L</text>
<text transform="translate(117.9,351) scale(1.14,1)" class="r" font-size="11.9" fill="#3a3a3a" text-anchor="middle">I</text>
<text transform="translate(128.95,351) scale(1.14,1)" class="r" font-size="11.9" fill="#3a3a3a" text-anchor="middle">V</text>
<text transform="translate(140,351) scale(1.14,1)" class="r" font-size="11.9" fill="#3a3a3a" text-anchor="middle">N</text>
<text transform="translate(151.05,351) scale(1.14,1)" class="r" font-size="11.9" fill="#3a3a3a" text-anchor="middle">S</text>
<text transform="translate(162.1,351) scale(1.14,1)" class="r" font-size="11.9" fill="#3a3a3a" text-anchor="middle">V</text>
<text transform="translate(173.16,351) scale(1.14,1)" class="r" font-size="11.9" fill="#3a3a3a" text-anchor="middle">L</text>
<text transform="translate(184.21,351) scale(1.14,1)" class="r" font-size="11.9" fill="#3a3a3a" text-anchor="middle">L</text>
<text transform="translate(195.26,351) scale(1.14,1)" class="r" font-size="11.9" fill="#3a3a3a" text-anchor="middle">F</text>
<text transform="translate(206.31,351) scale(1.14,1)" class="r" font-size="11.9" fill="#3a3a3a" text-anchor="middle">L</text>
<text transform="translate(217.36,351) scale(1.14,1)" class="r" font-size="11.9" fill="#3a3a3a" text-anchor="middle">A</text>
<text transform="translate(228.42,351) scale(1.14,1)" class="r" font-size="11.9" fill="#3a3a3a" text-anchor="middle">F</text>
<text transform="translate(239.47,351) scale(1.14,1)" class="r" font-size="11.9" fill="#3a3a3a" text-anchor="middle">V</text>
<text transform="translate(250.52,351) scale(1.14,1)" class="r" font-size="11.9" fill="#3a3a3a" text-anchor="middle">V</text>
<text transform="translate(261.57,351) scale(1.14,1)" class="r" font-size="11.9" fill="#3a3a3a" text-anchor="middle">F</text>
<text transform="translate(272.62,351) scale(1.14,1)" class="r" font-size="11.9" fill="#3a3a3a" text-anchor="middle">L</text>
<text transform="translate(283.68,351) scale(1.14,1)" class="r" font-size="11.9" fill="#3a3a3a" text-anchor="middle">L</text>
<text transform="translate(294.73,351) scale(1.14,1)" class="r" font-size="11.9" fill="#3a3a3a" text-anchor="middle">V</text>
<text transform="translate(305.78,351) scale(1.14,1)" class="r" font-size="11.9" fill="#3a3a3a" text-anchor="middle">T</text>
<text transform="translate(316.83,351) scale(1.14,1)" class="r" font-size="11.9" fill="#3a3a3a" text-anchor="middle">L</text>
<text transform="translate(327.88,351) scale(1.14,1)" class="r" font-size="11.9" fill="#3a3a3a" text-anchor="middle">A</text>
<text transform="translate(338.94,351) scale(1.14,1)" class="r" font-size="11.9" fill="#3a3a3a" text-anchor="middle">I</text>
<text transform="translate(349.99,351) scale(1.14,1)" class="r" font-size="11.9" fill="#3a3a3a" text-anchor="middle">L</text>
<text transform="translate(361.04,351) scale(1.14,1)" class="r" font-size="11.9" fill="#3a3a3a" text-anchor="middle">T</text>
<text transform="translate(372.09,351) scale(1.14,1)" class="r" font-size="11.9" fill="#3a3a3a" text-anchor="middle">A</text>
<text transform="translate(383.14,351) scale(1.14,1)" class="r" font-size="11.9" fill="#3a3a3a" text-anchor="middle">L</text>
<text transform="translate(394.2,351) scale(1.14,1)" class="r" font-size="11.9" fill="#3a3a3a" text-anchor="middle">R</text>
<text transform="translate(405.25,351) scale(1.14,1)" class="r" font-size="11.9" fill="#3a3a3a" text-anchor="middle">L</text>
<text transform="translate(416.3,351) scale(1.14,1)" class="r" font-size="11.9" fill="#3a3a3a" text-anchor="middle">A</text>
<text transform="translate(427.35,351) scale(1.14,1)" class="r" font-size="11.9" fill="#3a3a3a" text-anchor="middle">A</text>
<text transform="translate(438.4,351) scale(1.14,1)" class="r" font-size="11.9" fill="#3a3a3a" text-anchor="middle">Y</text>
<text transform="translate(449.46,351) scale(1.14,1)" class="r" font-size="11.9" fill="#3a3a3a" text-anchor="middle">A</text>
<text transform="translate(460.51,351) scale(1.14,1)" class="r" font-size="11.9" fill="#3a3a3a" text-anchor="middle">A</text>
<text transform="translate(471.56,351) scale(1.14,1)" class="r" font-size="11.9" fill="#3a3a3a" text-anchor="middle">N</text>
<text transform="translate(482.61,351) scale(1.14,1)" class="r" font-size="11.9" fill="#3a3a3a" text-anchor="middle">I</text>
<text transform="translate(493.66,351) scale(1.14,1)" class="r" font-size="11.9" fill="#3a3a3a" text-anchor="middle">V</text>
<text transform="translate(504.72,351) scale(1.14,1)" class="r" font-size="11.9" fill="#3a3a3a" text-anchor="middle">N</text>
<text transform="translate(515.77,351) scale(1.14,1)" class="r" font-size="11.9" fill="#3a3a3a" text-anchor="middle">V</text>
<text transform="translate(526.82,351) scale(1.14,1)" class="r" font-size="11.9" fill="#3a3a3a" text-anchor="middle">S</text>
<text transform="translate(537.87,351) scale(1.14,1)" class="r" font-size="11.9" fill="#3a3a3a" text-anchor="middle">L</text>
<text transform="translate(548.92,351) scale(1.14,1)" class="r" font-size="11.9" fill="#3a3a3a" text-anchor="middle">V</text>
<text transform="translate(559.98,351) scale(1.14,1)" class="r" font-size="11.9" fill="#3a3a3a" text-anchor="middle">K</text>
<text transform="translate(571.03,351) scale(1.14,1)" class="r" font-size="11.9" fill="#3a3a3a" text-anchor="middle">P</text>
<text transform="translate(582.08,351) scale(1.14,1)" class="r" font-size="11.9" fill="#3a3a3a" text-anchor="middle">S</text>
<text transform="translate(593.13,351) scale(1.14,1)" class="r" font-size="11.9" fill="#3a3a3a" text-anchor="middle">F</text>
<text transform="translate(604.18,351) scale(1.14,1)" class="r" font-size="11.9" fill="#3a3a3a" text-anchor="middle">Y</text>
<text transform="translate(615.24,351) scale(1.14,1)" class="r" font-size="11.9" fill="#3a3a3a" text-anchor="middle">V</text>
<text transform="translate(626.29,351) scale(1.14,1)" class="r" font-size="11.9" fill="#3a3a3a" text-anchor="middle">Y</text>
<text transform="translate(637.34,351) scale(1.14,1)" class="r" font-size="11.9" fill="#3a3a3a" text-anchor="middle">S</text>
<text transform="translate(648.39,351) scale(1.14,1)" class="r" font-size="11.9" fill="#3a3a3a" text-anchor="middle">R</text>
<text transform="translate(659.44,351) scale(1.14,1)" class="r" font-size="11.9" fill="#3a3a3a" text-anchor="middle">V</text>
<text transform="translate(670.5,351) scale(1.14,1)" class="r" font-size="11.9" fill="#3a3a3a" text-anchor="middle">K</text>
<text transform="translate(681.55,351) scale(1.14,1)" class="r" font-size="11.9" fill="#3a3a3a" text-anchor="middle">N</text>
<text transform="translate(692.6,351) scale(1.14,1)" class="r" font-size="11.9" fill="#3a3a3a" text-anchor="middle">L</text>
<rect x="53.56" y="211.2" width="647.84" height="143.3" fill="none" stroke="#111" stroke-width="1.5"/>
<line x1="51.16" x2="53.56" y1="354.6" y2="354.6" stroke="#111" stroke-width="1.3"/>
<line x1="51.16" x2="53.56" y1="349.82" y2="349.82" stroke="#111" stroke-width="1.3"/>
<line x1="51.16" x2="53.56" y1="345.04" y2="345.04" stroke="#111" stroke-width="1.3"/>
<line x1="51.16" x2="53.56" y1="340.26" y2="340.26" stroke="#111" stroke-width="1.3"/>
<line x1="51.16" x2="53.56" y1="335.48" y2="335.48" stroke="#111" stroke-width="1.3"/>
<line x1="51.16" x2="53.56" y1="330.7" y2="330.7" stroke="#111" stroke-width="1.3"/>
<line x1="51.16" x2="53.56" y1="325.92" y2="325.92" stroke="#111" stroke-width="1.3"/>
<line x1="51.16" x2="53.56" y1="321.14" y2="321.14" stroke="#111" stroke-width="1.3"/>
<line x1="51.16" x2="53.56" y1="316.36" y2="316.36" stroke="#111" stroke-width="1.3"/>
<line x1="51.16" x2="53.56" y1="311.58" y2="311.58" stroke="#111" stroke-width="1.3"/>
<line x1="51.16" x2="53.56" y1="306.8" y2="306.8" stroke="#111" stroke-width="1.3"/>
<line x1="51.16" x2="53.56" y1="302.02" y2="302.02" stroke="#111" stroke-width="1.3"/>
<line x1="51.16" x2="53.56" y1="297.24" y2="297.24" stroke="#111" stroke-width="1.3"/>
<line x1="51.16" x2="53.56" y1="292.46" y2="292.46" stroke="#111" stroke-width="1.3"/>
<line x1="51.16" x2="53.56" y1="287.68" y2="287.68" stroke="#111" stroke-width="1.3"/>
<line x1="51.16" x2="53.56" y1="282.9" y2="282.9" stroke="#111" stroke-width="1.3"/>
<line x1="51.16" x2="53.56" y1="278.12" y2="278.12" stroke="#111" stroke-width="1.3"/>
<line x1="51.16" x2="53.56" y1="273.34" y2="273.34" stroke="#111" stroke-width="1.3"/>
<line x1="51.16" x2="53.56" y1="268.56" y2="268.56" stroke="#111" stroke-width="1.3"/>
<line x1="51.16" x2="53.56" y1="263.78" y2="263.78" stroke="#111" stroke-width="1.3"/>
<line x1="51.16" x2="53.56" y1="259" y2="259" stroke="#111" stroke-width="1.3"/>
<line x1="51.16" x2="53.56" y1="254.22" y2="254.22" stroke="#111" stroke-width="1.3"/>
<line x1="51.16" x2="53.56" y1="249.44" y2="249.44" stroke="#111" stroke-width="1.3"/>
<line x1="51.16" x2="53.56" y1="244.66" y2="244.66" stroke="#111" stroke-width="1.3"/>
<line x1="51.16" x2="53.56" y1="239.88" y2="239.88" stroke="#111" stroke-width="1.3"/>
<line x1="51.16" x2="53.56" y1="235.1" y2="235.1" stroke="#111" stroke-width="1.3"/>
<line x1="51.16" x2="53.56" y1="230.32" y2="230.32" stroke="#111" stroke-width="1.3"/>
<line x1="51.16" x2="53.56" y1="225.54" y2="225.54" stroke="#111" stroke-width="1.3"/>
<line x1="51.16" x2="53.56" y1="220.76" y2="220.76" stroke="#111" stroke-width="1.3"/>
<line x1="51.16" x2="53.56" y1="215.98" y2="215.98" stroke="#111" stroke-width="1.3"/>
<line x1="51.16" x2="53.56" y1="211.2" y2="211.2" stroke="#111" stroke-width="1.3"/>
<line x1="47.46" x2="53.56" y1="211.2" y2="211.2" stroke="#111" stroke-width="1.4"/>
<text x="44.9" y="215.65" class="s" font-size="12.5" fill="#111" text-anchor="end">10</text>
<line x1="47.46" x2="53.56" y1="230.32" y2="230.32" stroke="#111" stroke-width="1.4"/>
<text x="44.9" y="234.77" class="s" font-size="12.5" fill="#111" text-anchor="end">8</text>
<line x1="47.46" x2="53.56" y1="249.44" y2="249.44" stroke="#111" stroke-width="1.4"/>
<text x="44.9" y="253.89" class="s" font-size="12.5" fill="#111" text-anchor="end">6</text>
<line x1="47.46" x2="53.56" y1="268.56" y2="268.56" stroke="#111" stroke-width="1.4"/>
<text x="44.9" y="273.01" class="s" font-size="12.5" fill="#111" text-anchor="end">4</text>
<line x1="47.46" x2="53.56" y1="287.68" y2="287.68" stroke="#111" stroke-width="1.4"/>
<text x="44.9" y="292.13" class="s" font-size="12.5" fill="#111" text-anchor="end">2</text>
<line x1="47.46" x2="53.56" y1="306.8" y2="306.8" stroke="#111" stroke-width="1.4"/>
<text x="44.9" y="311.25" class="s" font-size="12.5" fill="#111" text-anchor="end">0</text>
<line x1="47.46" x2="53.56" y1="325.92" y2="325.92" stroke="#111" stroke-width="1.4"/>
<text x="44.9" y="330.37" class="s" font-size="12.5" fill="#111" text-anchor="end">-2</text>
<line x1="47.46" x2="53.56" y1="345.04" y2="345.04" stroke="#111" stroke-width="1.4"/>
<text x="44.9" y="349.49" class="s" font-size="12.5" fill="#111" text-anchor="end">-4</text>
<line x1="62.64" x2="62.64" y1="354.5" y2="357.5" stroke="#111" stroke-width="1.4"/>
<line x1="73.69" x2="73.69" y1="354.5" y2="357.5" stroke="#111" stroke-width="1.4"/>
<line x1="84.74" x2="84.74" y1="354.5" y2="362.4" stroke="#111" stroke-width="1.4"/>
<line x1="95.79" x2="95.79" y1="354.5" y2="357.5" stroke="#111" stroke-width="1.4"/>
<line x1="106.84" x2="106.84" y1="354.5" y2="357.5" stroke="#111" stroke-width="1.4"/>
<line x1="117.9" x2="117.9" y1="354.5" y2="357.5" stroke="#111" stroke-width="1.4"/>
<line x1="128.95" x2="128.95" y1="354.5" y2="357.5" stroke="#111" stroke-width="1.4"/>
<line x1="140" x2="140" y1="354.5" y2="357.5" stroke="#111" stroke-width="1.4"/>
<line x1="151.05" x2="151.05" y1="354.5" y2="357.5" stroke="#111" stroke-width="1.4"/>
<line x1="162.1" x2="162.1" y1="354.5" y2="357.5" stroke="#111" stroke-width="1.4"/>
<line x1="173.16" x2="173.16" y1="354.5" y2="357.5" stroke="#111" stroke-width="1.4"/>
<line x1="184.21" x2="184.21" y1="354.5" y2="357.5" stroke="#111" stroke-width="1.4"/>
<line x1="195.26" x2="195.26" y1="354.5" y2="362.4" stroke="#111" stroke-width="1.4"/>
<line x1="206.31" x2="206.31" y1="354.5" y2="357.5" stroke="#111" stroke-width="1.4"/>
<line x1="217.36" x2="217.36" y1="354.5" y2="357.5" stroke="#111" stroke-width="1.4"/>
<line x1="228.42" x2="228.42" y1="354.5" y2="357.5" stroke="#111" stroke-width="1.4"/>
<line x1="239.47" x2="239.47" y1="354.5" y2="357.5" stroke="#111" stroke-width="1.4"/>
<line x1="250.52" x2="250.52" y1="354.5" y2="357.5" stroke="#111" stroke-width="1.4"/>
<line x1="261.57" x2="261.57" y1="354.5" y2="357.5" stroke="#111" stroke-width="1.4"/>
<line x1="272.62" x2="272.62" y1="354.5" y2="357.5" stroke="#111" stroke-width="1.4"/>
<line x1="283.68" x2="283.68" y1="354.5" y2="357.5" stroke="#111" stroke-width="1.4"/>
<line x1="294.73" x2="294.73" y1="354.5" y2="357.5" stroke="#111" stroke-width="1.4"/>
<line x1="305.78" x2="305.78" y1="354.5" y2="362.4" stroke="#111" stroke-width="1.4"/>
<line x1="316.83" x2="316.83" y1="354.5" y2="357.5" stroke="#111" stroke-width="1.4"/>
<line x1="327.88" x2="327.88" y1="354.5" y2="357.5" stroke="#111" stroke-width="1.4"/>
<line x1="338.94" x2="338.94" y1="354.5" y2="357.5" stroke="#111" stroke-width="1.4"/>
<line x1="349.99" x2="349.99" y1="354.5" y2="357.5" stroke="#111" stroke-width="1.4"/>
<line x1="361.04" x2="361.04" y1="354.5" y2="357.5" stroke="#111" stroke-width="1.4"/>
<line x1="372.09" x2="372.09" y1="354.5" y2="357.5" stroke="#111" stroke-width="1.4"/>
<line x1="383.14" x2="383.14" y1="354.5" y2="357.5" stroke="#111" stroke-width="1.4"/>
<line x1="394.2" x2="394.2" y1="354.5" y2="357.5" stroke="#111" stroke-width="1.4"/>
<line x1="405.25" x2="405.25" y1="354.5" y2="357.5" stroke="#111" stroke-width="1.4"/>
<line x1="416.3" x2="416.3" y1="354.5" y2="362.4" stroke="#111" stroke-width="1.4"/>
<line x1="427.35" x2="427.35" y1="354.5" y2="357.5" stroke="#111" stroke-width="1.4"/>
<line x1="438.4" x2="438.4" y1="354.5" y2="357.5" stroke="#111" stroke-width="1.4"/>
<line x1="449.46" x2="449.46" y1="354.5" y2="357.5" stroke="#111" stroke-width="1.4"/>
<line x1="460.51" x2="460.51" y1="354.5" y2="357.5" stroke="#111" stroke-width="1.4"/>
<line x1="471.56" x2="471.56" y1="354.5" y2="357.5" stroke="#111" stroke-width="1.4"/>
<line x1="482.61" x2="482.61" y1="354.5" y2="357.5" stroke="#111" stroke-width="1.4"/>
<line x1="493.66" x2="493.66" y1="354.5" y2="357.5" stroke="#111" stroke-width="1.4"/>
<line x1="504.72" x2="504.72" y1="354.5" y2="357.5" stroke="#111" stroke-width="1.4"/>
<line x1="515.77" x2="515.77" y1="354.5" y2="357.5" stroke="#111" stroke-width="1.4"/>
<line x1="526.82" x2="526.82" y1="354.5" y2="362.4" stroke="#111" stroke-width="1.4"/>
<line x1="537.87" x2="537.87" y1="354.5" y2="357.5" stroke="#111" stroke-width="1.4"/>
<line x1="548.92" x2="548.92" y1="354.5" y2="357.5" stroke="#111" stroke-width="1.4"/>
<line x1="559.98" x2="559.98" y1="354.5" y2="357.5" stroke="#111" stroke-width="1.4"/>
<line x1="571.03" x2="571.03" y1="354.5" y2="357.5" stroke="#111" stroke-width="1.4"/>
<line x1="582.08" x2="582.08" y1="354.5" y2="357.5" stroke="#111" stroke-width="1.4"/>
<line x1="593.13" x2="593.13" y1="354.5" y2="357.5" stroke="#111" stroke-width="1.4"/>
<line x1="604.18" x2="604.18" y1="354.5" y2="357.5" stroke="#111" stroke-width="1.4"/>
<line x1="615.24" x2="615.24" y1="354.5" y2="357.5" stroke="#111" stroke-width="1.4"/>
<line x1="626.29" x2="626.29" y1="354.5" y2="357.5" stroke="#111" stroke-width="1.4"/>
<line x1="637.34" x2="637.34" y1="354.5" y2="362.4" stroke="#111" stroke-width="1.4"/>
<line x1="648.39" x2="648.39" y1="354.5" y2="357.5" stroke="#111" stroke-width="1.4"/>
<line x1="659.44" x2="659.44" y1="354.5" y2="357.5" stroke="#111" stroke-width="1.4"/>
<line x1="670.5" x2="670.5" y1="354.5" y2="357.5" stroke="#111" stroke-width="1.4"/>
<line x1="681.55" x2="681.55" y1="354.5" y2="357.5" stroke="#111" stroke-width="1.4"/>
<line x1="692.6" x2="692.6" y1="354.5" y2="357.5" stroke="#111" stroke-width="1.4"/>
<text x="84.74" y="372.9" class="s" font-size="13" fill="#111" text-anchor="middle">10</text>
<text x="195.26" y="372.9" class="s" font-size="13" fill="#111" text-anchor="middle">20</text>
<text x="305.78" y="372.9" class="s" font-size="13" fill="#111" text-anchor="middle">30</text>
<text x="416.3" y="372.9" class="s" font-size="13" fill="#111" text-anchor="middle">40</text>
<text x="526.82" y="372.9" class="s" font-size="13" fill="#111" text-anchor="middle">50</text>
<text x="637.34" y="372.9" class="s" font-size="13" fill="#111" text-anchor="middle">60</text>
<text x="5.6" y="208.3" class="s" font-weight="bold" font-size="23" fill="#000">b</text>
<text x="52.6" y="205.7" class="s" font-size="16.7" fill="#111">ETM (8-38)</text>
<text x="349.5" y="388.5" class="s" font-size="16.7" fill="#111" text-anchor="middle">Residue number</text>
<text transform="translate(21.9,281.7) rotate(-90)" class="s" font-size="16" fill="#111" text-anchor="middle">δC<tspan font-size="10.3" dy="5.3">exp</tspan><tspan dy="-5.3" dx="-1" xml:space="preserve"> -</tspan><tspan dx="-1" xml:space="preserve"> δC</tspan><tspan font-size="10.3" dy="5.3">coil</tspan><tspan dy="-5.3" xml:space="preserve"> (ppm)</tspan></text>
<rect x="137.2" y="213.5" width="49.8" height="29.8" fill="#fff" stroke="#222" stroke-width="0.9"/>
<rect x="142" y="219.2" width="14.9" height="4.7" fill="#f05a28"/>
<rect x="142.7" y="232" width="13.5" height="4.3" fill="#fff" stroke="#f05a28" stroke-width="1.2"/>
<text x="161.2" y="224.3" class="s" font-size="13.2" fill="#f05a28">C<tspan class="r" font-size="13.8" dx="0.4">α</tspan></text>
<text x="161.2" y="237.8" class="s" font-size="13.2" fill="#f05a28">C<tspan class="r" font-size="13.8" dx="0.4">β</tspan></text>
<rect x="53.45" y="409.95" width="49.15" height="143.35" fill="#cccccc"/>
<rect x="377.2" y="409.95" width="88.4" height="143.35" fill="#cccccc"/>
<line x1="377.2" x2="377.2" y1="409.95" y2="553.3" stroke="#9a9a9a" stroke-width="0.8"/>
<line x1="465.6" x2="465.6" y1="409.95" y2="553.3" stroke="#9a9a9a" stroke-width="0.8"/>
<line x1="53.45" x2="701.4" y1="481.9" y2="481.9" stroke="#111" stroke-width="1.6"/>
<path d="M75.01 499.35V508.45M72.71 499.35H77.31M72.71 508.45H77.31" stroke="#111" stroke-width="1.5" fill="none"/>
<rect x="71.91" y="500.8" width="6.2" height="6.2" fill="#fff" stroke="#111" stroke-width="1.6"/>
<rect x="71.01" y="487.3" width="8" height="8" fill="#000"/>
<path d="M97.11 502.35V511.45M94.81 502.35H99.41M94.81 511.45H99.41" stroke="#111" stroke-width="1.5" fill="none"/>
<rect x="94.01" y="503.8" width="6.2" height="6.2" fill="#fff" stroke="#111" stroke-width="1.6"/>
<path d="M97.11 488.75V497.85M94.81 488.75H99.41M94.81 497.85H99.41" stroke="#111" stroke-width="1.5" fill="none"/>
<rect x="93.11" y="489.3" width="8" height="8" fill="#000"/>
<rect x="105.06" y="502.8" width="6.2" height="6.2" fill="#fff" stroke="#111" stroke-width="1.6"/>
<rect x="104.16" y="492.57" width="8" height="8" fill="#000"/>
<rect x="116.12" y="502.04" width="6.2" height="6.2" fill="#fff" stroke="#111" stroke-width="1.6"/>
<rect x="115.22" y="492.82" width="8" height="8" fill="#000"/>
<rect x="127.17" y="501.29" width="6.2" height="6.2" fill="#fff" stroke="#111" stroke-width="1.6"/>
<rect x="126.27" y="492.32" width="8" height="8" fill="#000"/>
<rect x="138.22" y="502.04" width="6.2" height="6.2" fill="#fff" stroke="#111" stroke-width="1.6"/>
<rect x="137.32" y="491.06" width="8" height="8" fill="#000"/>
<rect x="149.27" y="502.3" width="6.2" height="6.2" fill="#fff" stroke="#111" stroke-width="1.6"/>
<rect x="148.37" y="492.32" width="8" height="8" fill="#000"/>
<rect x="160.32" y="502.04" width="6.2" height="6.2" fill="#fff" stroke="#111" stroke-width="1.6"/>
<rect x="159.42" y="492.07" width="8" height="8" fill="#000"/>
<rect x="171.38" y="502.3" width="6.2" height="6.2" fill="#fff" stroke="#111" stroke-width="1.6"/>
<rect x="170.48" y="491.06" width="8" height="8" fill="#000"/>
<rect x="182.43" y="502.55" width="6.2" height="6.2" fill="#fff" stroke="#111" stroke-width="1.6"/>
<rect x="181.53" y="491.81" width="8" height="8" fill="#000"/>
<rect x="193.48" y="501.54" width="6.2" height="6.2" fill="#fff" stroke="#111" stroke-width="1.6"/>
<rect x="192.58" y="492.57" width="8" height="8" fill="#000"/>
<rect x="204.53" y="502.04" width="6.2" height="6.2" fill="#fff" stroke="#111" stroke-width="1.6"/>
<rect x="203.63" y="491.31" width="8" height="8" fill="#000"/>
<rect x="215.58" y="502.3" width="6.2" height="6.2" fill="#fff" stroke="#111" stroke-width="1.6"/>
<rect x="214.68" y="491.56" width="8" height="8" fill="#000"/>
<rect x="226.64" y="501.54" width="6.2" height="6.2" fill="#fff" stroke="#111" stroke-width="1.6"/>
<rect x="225.74" y="492.32" width="8" height="8" fill="#000"/>
<rect x="237.69" y="500.78" width="6.2" height="6.2" fill="#fff" stroke="#111" stroke-width="1.6"/>
<rect x="236.79" y="492.82" width="8" height="8" fill="#000"/>
<rect x="248.74" y="501.04" width="6.2" height="6.2" fill="#fff" stroke="#111" stroke-width="1.6"/>
<rect x="247.84" y="491.31" width="8" height="8" fill="#000"/>
<rect x="259.79" y="501.79" width="6.2" height="6.2" fill="#fff" stroke="#111" stroke-width="1.6"/>
<rect x="258.89" y="492.82" width="8" height="8" fill="#000"/>
<rect x="270.84" y="501.79" width="6.2" height="6.2" fill="#fff" stroke="#111" stroke-width="1.6"/>
<rect x="269.94" y="491.31" width="8" height="8" fill="#000"/>
<rect x="281.9" y="501.79" width="6.2" height="6.2" fill="#fff" stroke="#111" stroke-width="1.6"/>
<rect x="281" y="491.81" width="8" height="8" fill="#000"/>
<rect x="292.95" y="501.79" width="6.2" height="6.2" fill="#fff" stroke="#111" stroke-width="1.6"/>
<rect x="292.05" y="491.06" width="8" height="8" fill="#000"/>
<rect x="304" y="501.79" width="6.2" height="6.2" fill="#fff" stroke="#111" stroke-width="1.6"/>
<rect x="303.1" y="491.81" width="8" height="8" fill="#000"/>
<rect x="315.05" y="501.79" width="6.2" height="6.2" fill="#fff" stroke="#111" stroke-width="1.6"/>
<rect x="314.15" y="491.31" width="8" height="8" fill="#000"/>
<rect x="326.1" y="502.04" width="6.2" height="6.2" fill="#fff" stroke="#111" stroke-width="1.6"/>
<rect x="325.2" y="491.81" width="8" height="8" fill="#000"/>
<rect x="337.16" y="501.29" width="6.2" height="6.2" fill="#fff" stroke="#111" stroke-width="1.6"/>
<rect x="336.26" y="493.08" width="8" height="8" fill="#000"/>
<rect x="348.21" y="501.04" width="6.2" height="6.2" fill="#fff" stroke="#111" stroke-width="1.6"/>
<rect x="347.31" y="491.81" width="8" height="8" fill="#000"/>
<rect x="359.26" y="502.3" width="6.2" height="6.2" fill="#fff" stroke="#111" stroke-width="1.6"/>
<rect x="358.36" y="489.55" width="8" height="8" fill="#000"/>
<rect x="370.31" y="502.8" width="6.2" height="6.2" fill="#fff" stroke="#111" stroke-width="1.6"/>
<rect x="369.41" y="487.78" width="8" height="8" fill="#000"/>
<rect x="381.36" y="511.93" width="6.2" height="6.2" fill="#fff" stroke="#111" stroke-width="1.6"/>
<path d="M384.46 478.18V487.28M382.16 478.18H386.76M382.16 487.28H386.76" stroke="#111" stroke-width="1.5" fill="none"/>
<rect x="380.46" y="478.73" width="8" height="8" fill="#000"/>
<path d="M395.52 512.84V527.62M392.72 512.84H398.32M392.72 527.62H398.32" stroke="#111" stroke-width="1.5" fill="none"/>
<rect x="392.42" y="517.13" width="6.2" height="6.2" fill="#fff" stroke="#111" stroke-width="1.6"/>
<path d="M395.52 424.97V434.82M392.72 424.97H398.32M392.72 434.82H398.32" stroke="#111" stroke-width="1.5" fill="none"/>
<rect x="391.52" y="425.89" width="8" height="8" fill="#000"/>
<path d="M406.57 503.53V518.32M403.77 503.53H409.37M403.77 518.32H409.37" stroke="#111" stroke-width="1.5" fill="none"/>
<rect x="403.47" y="507.82" width="6.2" height="6.2" fill="#fff" stroke="#111" stroke-width="1.6"/>
<path d="M406.57 426.88V438.93M403.77 426.88H409.37M403.77 438.93H409.37" stroke="#111" stroke-width="1.5" fill="none"/>
<rect x="402.57" y="428.91" width="8" height="8" fill="#000"/>
<rect x="436.62" y="504.54" width="6.2" height="6.2" fill="#fff" stroke="#111" stroke-width="1.6"/>
<path d="M439.72 486.66V495.76M437.42 486.66H442.02M437.42 495.76H442.02" stroke="#111" stroke-width="1.5" fill="none"/>
<rect x="435.72" y="487.21" width="8" height="8" fill="#000"/>
<rect x="447.68" y="510.56" width="6.2" height="6.2" fill="#fff" stroke="#111" stroke-width="1.6"/>
<rect x="446.78" y="479" width="8" height="8" fill="#000"/>
<path d="M461.83 510.38V522.42M459.03 510.38H464.63M459.03 522.42H464.63" stroke="#111" stroke-width="1.5" fill="none"/>
<rect x="458.73" y="513.3" width="6.2" height="6.2" fill="#fff" stroke="#111" stroke-width="1.6"/>
<path d="M461.83 429.72V438.82M459.53 429.72H464.13M459.53 438.82H464.13" stroke="#111" stroke-width="1.5" fill="none"/>
<rect x="457.83" y="430.27" width="8" height="8" fill="#000"/>
<path d="M472.88 513.66V525.71M470.08 513.66H475.68M470.08 525.71H475.68" stroke="#111" stroke-width="1.5" fill="none"/>
<rect x="469.78" y="516.58" width="6.2" height="6.2" fill="#fff" stroke="#111" stroke-width="1.6"/>
<rect x="468.88" y="431.37" width="8" height="8" fill="#000"/>
<path d="M483.93 515.96V525.06M481.63 515.96H486.23M481.63 525.06H486.23" stroke="#111" stroke-width="1.5" fill="none"/>
<rect x="480.83" y="517.41" width="6.2" height="6.2" fill="#fff" stroke="#111" stroke-width="1.6"/>
<rect x="479.93" y="432.46" width="8" height="8" fill="#000"/>
<rect x="491.88" y="519.87" width="6.2" height="6.2" fill="#fff" stroke="#111" stroke-width="1.6"/>
<rect x="490.98" y="431.37" width="8" height="8" fill="#000"/>
<path d="M506.04 514.31V523.41M503.74 514.31H508.34M503.74 523.41H508.34" stroke="#111" stroke-width="1.5" fill="none"/>
<rect x="502.94" y="515.76" width="6.2" height="6.2" fill="#fff" stroke="#111" stroke-width="1.6"/>
<rect x="502.04" y="432.19" width="8" height="8" fill="#000"/>
<rect x="513.99" y="521.24" width="6.2" height="6.2" fill="#fff" stroke="#111" stroke-width="1.6"/>
<rect x="513.09" y="432.19" width="8" height="8" fill="#000"/>
<path d="M528.14 515.68V524.78M525.84 515.68H530.44M525.84 524.78H530.44" stroke="#111" stroke-width="1.5" fill="none"/>
<rect x="525.04" y="517.13" width="6.2" height="6.2" fill="#fff" stroke="#111" stroke-width="1.6"/>
<path d="M528.14 431.64V440.74M525.84 431.64H530.44M525.84 440.74H530.44" stroke="#111" stroke-width="1.5" fill="none"/>
<rect x="524.14" y="432.19" width="8" height="8" fill="#000"/>
<path d="M539.19 512.29V522.15M536.39 512.29H541.99M536.39 522.15H541.99" stroke="#111" stroke-width="1.5" fill="none"/>
<rect x="536.09" y="514.12" width="6.2" height="6.2" fill="#fff" stroke="#111" stroke-width="1.6"/>
<rect x="535.19" y="433.29" width="8" height="8" fill="#000"/>
<path d="M550.24 512.84V523.79M547.44 512.84H553.04M547.44 523.79H553.04" stroke="#111" stroke-width="1.5" fill="none"/>
<rect x="547.14" y="515.22" width="6.2" height="6.2" fill="#fff" stroke="#111" stroke-width="1.6"/>
<path d="M550.24 429.62V440.57M547.44 429.62H553.04M547.44 440.57H553.04" stroke="#111" stroke-width="1.5" fill="none"/>
<rect x="546.24" y="431.1" width="8" height="8" fill="#000"/>
<rect x="558.2" y="460.74" width="6.2" height="6.2" fill="#fff" stroke="#111" stroke-width="1.6"/>
<rect x="569.25" y="503.17" width="6.2" height="6.2" fill="#fff" stroke="#111" stroke-width="1.6"/>
<rect x="568.35" y="423.98" width="8" height="8" fill="#000"/>
<path d="M583.4 517.77V532M580.6 517.77H586.2M580.6 532H586.2" stroke="#111" stroke-width="1.5" fill="none"/>
<rect x="580.3" y="521.79" width="6.2" height="6.2" fill="#fff" stroke="#111" stroke-width="1.6"/>
<path d="M583.4 426.44V435.54M581.1 426.44H585.7M581.1 435.54H585.7" stroke="#111" stroke-width="1.5" fill="none"/>
<rect x="579.4" y="426.99" width="8" height="8" fill="#000"/>
<rect x="591.35" y="519.6" width="6.2" height="6.2" fill="#fff" stroke="#111" stroke-width="1.6"/>
<rect x="590.45" y="431.1" width="8" height="8" fill="#000"/>
<path d="M605.5 514.59V523.69M603.2 514.59H607.8M603.2 523.69H607.8" stroke="#111" stroke-width="1.5" fill="none"/>
<rect x="602.4" y="516.04" width="6.2" height="6.2" fill="#fff" stroke="#111" stroke-width="1.6"/>
<rect x="601.5" y="433.01" width="8" height="8" fill="#000"/>
<path d="M616.56 517.32V526.42M614.26 517.32H618.86M614.26 526.42H618.86" stroke="#111" stroke-width="1.5" fill="none"/>
<rect x="613.46" y="518.77" width="6.2" height="6.2" fill="#fff" stroke="#111" stroke-width="1.6"/>
<rect x="612.56" y="432.46" width="8" height="8" fill="#000"/>
<path d="M627.61 505.18V518.86M624.81 505.18H630.41M624.81 518.86H630.41" stroke="#111" stroke-width="1.5" fill="none"/>
<rect x="624.51" y="508.92" width="6.2" height="6.2" fill="#fff" stroke="#111" stroke-width="1.6"/>
<path d="M627.61 479.99V500.8M624.81 479.99H630.41M624.81 500.8H630.41" stroke="#111" stroke-width="1.5" fill="none"/>
<rect x="623.61" y="486.39" width="8" height="8" fill="#000"/>
<rect x="635.56" y="531.91" width="6.2" height="6.2" fill="#fff" stroke="#111" stroke-width="1.6"/>
<rect x="634.66" y="422.61" width="8" height="8" fill="#000"/>
<path d="M649.71 513.11V524.06M646.91 513.11H652.51M646.91 524.06H652.51" stroke="#111" stroke-width="1.5" fill="none"/>
<rect x="646.61" y="515.49" width="6.2" height="6.2" fill="#fff" stroke="#111" stroke-width="1.6"/>
<path d="M649.71 430.27V439.37M647.41 430.27H652.01M647.41 439.37H652.01" stroke="#111" stroke-width="1.5" fill="none"/>
<rect x="645.71" y="430.82" width="8" height="8" fill="#000"/>
<rect x="657.66" y="522.88" width="6.2" height="6.2" fill="#fff" stroke="#111" stroke-width="1.6"/>
<rect x="656.76" y="430.27" width="8" height="8" fill="#000"/>
<path d="M671.82 520.34V529.44M669.52 520.34H674.12M669.52 529.44H674.12" stroke="#111" stroke-width="1.5" fill="none"/>
<rect x="668.72" y="521.79" width="6.2" height="6.2" fill="#fff" stroke="#111" stroke-width="1.6"/>
<rect x="667.82" y="430.55" width="8" height="8" fill="#000"/>
<path d="M682.87 511.03V520.13M680.57 511.03H685.17M680.57 520.13H685.17" stroke="#111" stroke-width="1.5" fill="none"/>
<rect x="679.77" y="512.48" width="6.2" height="6.2" fill="#fff" stroke="#111" stroke-width="1.6"/>
<path d="M682.87 431.91V441.01M680.57 431.91H685.17M680.57 441.01H685.17" stroke="#111" stroke-width="1.5" fill="none"/>
<rect x="678.87" y="432.46" width="8" height="8" fill="#000"/>
<text transform="translate(62.86,549.6) scale(1.14,1)" class="r" font-size="11.9" fill="#3a3a3a" text-anchor="middle">E</text>
<text transform="translate(73.91,549.6) scale(1.14,1)" class="r" font-size="11.9" fill="#3a3a3a" text-anchor="middle">T</text>
<text transform="translate(84.96,549.6) scale(1.14,1)" class="r" font-size="11.9" fill="#3a3a3a" text-anchor="middle">G</text>
<text transform="translate(96.01,549.6) scale(1.14,1)" class="r" font-size="11.9" fill="#3a3a3a" text-anchor="middle">T</text>
<text transform="translate(107.06,549.6) scale(1.14,1)" class="r" font-size="11.9" fill="#3a3a3a" text-anchor="middle">L</text>
<text transform="translate(118.12,549.6) scale(1.14,1)" class="r" font-size="11.9" fill="#3a3a3a" text-anchor="middle">I</text>
<text transform="translate(129.17,549.6) scale(1.14,1)" class="r" font-size="11.9" fill="#3a3a3a" text-anchor="middle">V</text>
<text transform="translate(140.22,549.6) scale(1.14,1)" class="r" font-size="11.9" fill="#3a3a3a" text-anchor="middle">N</text>
<text transform="translate(151.27,549.6) scale(1.14,1)" class="r" font-size="11.9" fill="#3a3a3a" text-anchor="middle">S</text>
<text transform="translate(162.32,549.6) scale(1.14,1)" class="r" font-size="11.9" fill="#3a3a3a" text-anchor="middle">V</text>
<text transform="translate(173.38,549.6) scale(1.14,1)" class="r" font-size="11.9" fill="#3a3a3a" text-anchor="middle">L</text>
<text transform="translate(184.43,549.6) scale(1.14,1)" class="r" font-size="11.9" fill="#3a3a3a" text-anchor="middle">L</text>
<text transform="translate(195.48,549.6) scale(1.14,1)" class="r" font-size="11.9" fill="#3a3a3a" text-anchor="middle">F</text>
<text transform="translate(206.53,549.6) scale(1.14,1)" class="r" font-size="11.9" fill="#3a3a3a" text-anchor="middle">L</text>
<text transform="translate(217.58,549.6) scale(1.14,1)" class="r" font-size="11.9" fill="#3a3a3a" text-anchor="middle">A</text>
<text transform="translate(228.64,549.6) scale(1.14,1)" class="r" font-size="11.9" fill="#3a3a3a" text-anchor="middle">F</text>
<text transform="translate(239.69,549.6) scale(1.14,1)" class="r" font-size="11.9" fill="#3a3a3a" text-anchor="middle">V</text>
<text transform="translate(250.74,549.6) scale(1.14,1)" class="r" font-size="11.9" fill="#3a3a3a" text-anchor="middle">V</text>
<text transform="translate(261.79,549.6) scale(1.14,1)" class="r" font-size="11.9" fill="#3a3a3a" text-anchor="middle">F</text>
<text transform="translate(272.84,549.6) scale(1.14,1)" class="r" font-size="11.9" fill="#3a3a3a" text-anchor="middle">L</text>
<text transform="translate(283.9,549.6) scale(1.14,1)" class="r" font-size="11.9" fill="#3a3a3a" text-anchor="middle">L</text>
<text transform="translate(294.95,549.6) scale(1.14,1)" class="r" font-size="11.9" fill="#3a3a3a" text-anchor="middle">V</text>
<text transform="translate(306,549.6) scale(1.14,1)" class="r" font-size="11.9" fill="#3a3a3a" text-anchor="middle">T</text>
<text transform="translate(317.05,549.6) scale(1.14,1)" class="r" font-size="11.9" fill="#3a3a3a" text-anchor="middle">L</text>
<text transform="translate(328.1,549.6) scale(1.14,1)" class="r" font-size="11.9" fill="#3a3a3a" text-anchor="middle">A</text>
<text transform="translate(339.16,549.6) scale(1.14,1)" class="r" font-size="11.9" fill="#3a3a3a" text-anchor="middle">I</text>
<text transform="translate(350.21,549.6) scale(1.14,1)" class="r" font-size="11.9" fill="#3a3a3a" text-anchor="middle">L</text>
<text transform="translate(361.26,549.6) scale(1.14,1)" class="r" font-size="11.9" fill="#3a3a3a" text-anchor="middle">T</text>
<text transform="translate(372.31,549.6) scale(1.14,1)" class="r" font-size="11.9" fill="#3a3a3a" text-anchor="middle">A</text>
<text transform="translate(383.36,549.6) scale(1.14,1)" class="r" font-size="11.9" fill="#3a3a3a" text-anchor="middle">L</text>
<text transform="translate(394.42,549.6) scale(1.14,1)" class="r" font-size="11.9" fill="#3a3a3a" text-anchor="middle">R</text>
<text transform="translate(405.47,549.6) scale(1.14,1)" class="r" font-size="11.9" fill="#3a3a3a" text-anchor="middle">L</text>
<text transform="translate(416.52,549.6) scale(1.14,1)" class="r" font-size="11.9" fill="#3a3a3a" text-anchor="middle">A</text>
<text transform="translate(427.57,549.6) scale(1.14,1)" class="r" font-size="11.9" fill="#3a3a3a" text-anchor="middle">A</text>
<text transform="translate(438.62,549.6) scale(1.14,1)" class="r" font-size="11.9" fill="#3a3a3a" text-anchor="middle">Y</text>
<text transform="translate(449.68,549.6) scale(1.14,1)" class="r" font-size="11.9" fill="#3a3a3a" text-anchor="middle">A</text>
<text transform="translate(460.73,549.6) scale(1.14,1)" class="r" font-size="11.9" fill="#3a3a3a" text-anchor="middle">A</text>
<text transform="translate(471.78,549.6) scale(1.14,1)" class="r" font-size="11.9" fill="#3a3a3a" text-anchor="middle">N</text>
<text transform="translate(482.83,549.6) scale(1.14,1)" class="r" font-size="11.9" fill="#3a3a3a" text-anchor="middle">I</text>
<text transform="translate(493.88,549.6) scale(1.14,1)" class="r" font-size="11.9" fill="#3a3a3a" text-anchor="middle">V</text>
<text transform="translate(504.94,549.6) scale(1.14,1)" class="r" font-size="11.9" fill="#3a3a3a" text-anchor="middle">N</text>
<text transform="translate(515.99,549.6) scale(1.14,1)" class="r" font-size="11.9" fill="#3a3a3a" text-anchor="middle">V</text>
<text transform="translate(527.04,549.6) scale(1.14,1)" class="r" font-size="11.9" fill="#3a3a3a" text-anchor="middle">S</text>
<text transform="translate(538.09,549.6) scale(1.14,1)" class="r" font-size="11.9" fill="#3a3a3a" text-anchor="middle">L</text>
<text transform="translate(549.14,549.6) scale(1.14,1)" class="r" font-size="11.9" fill="#3a3a3a" text-anchor="middle">V</text>
<text transform="translate(560.2,549.6) scale(1.14,1)" class="r" font-size="11.9" fill="#3a3a3a" text-anchor="middle">K</text>
<text transform="translate(571.25,549.6) scale(1.14,1)" class="r" font-size="11.9" fill="#3a3a3a" text-anchor="middle">P</text>
<text transform="translate(582.3,549.6) scale(1.14,1)" class="r" font-size="11.9" fill="#3a3a3a" text-anchor="middle">S</text>
<text transform="translate(593.35,549.6) scale(1.14,1)" class="r" font-size="11.9" fill="#3a3a3a" text-anchor="middle">F</text>
<text transform="translate(604.4,549.6) scale(1.14,1)" class="r" font-size="11.9" fill="#3a3a3a" text-anchor="middle">Y</text>
<text transform="translate(615.46,549.6) scale(1.14,1)" class="r" font-size="11.9" fill="#3a3a3a" text-anchor="middle">V</text>
<text transform="translate(626.51,549.6) scale(1.14,1)" class="r" font-size="11.9" fill="#3a3a3a" text-anchor="middle">Y</text>
<text transform="translate(637.56,549.6) scale(1.14,1)" class="r" font-size="11.9" fill="#3a3a3a" text-anchor="middle">S</text>
<text transform="translate(648.61,549.6) scale(1.14,1)" class="r" font-size="11.9" fill="#3a3a3a" text-anchor="middle">R</text>
<text transform="translate(659.66,549.6) scale(1.14,1)" class="r" font-size="11.9" fill="#3a3a3a" text-anchor="middle">V</text>
<text transform="translate(670.72,549.6) scale(1.14,1)" class="r" font-size="11.9" fill="#3a3a3a" text-anchor="middle">K</text>
<text transform="translate(681.77,549.6) scale(1.14,1)" class="r" font-size="11.9" fill="#3a3a3a" text-anchor="middle">N</text>
<text transform="translate(692.82,549.6) scale(1.14,1)" class="r" font-size="11.9" fill="#3a3a3a" text-anchor="middle">L</text>
<rect x="53.45" y="409.95" width="647.95" height="143.35" fill="none" stroke="#111" stroke-width="1.5"/>
<line x1="48.45" x2="53.45" y1="535.48" y2="535.48" stroke="#111" stroke-width="1.3"/>
<line x1="48.45" x2="53.45" y1="499.62" y2="499.62" stroke="#111" stroke-width="1.3"/>
<line x1="48.45" x2="53.45" y1="463.77" y2="463.77" stroke="#111" stroke-width="1.3"/>
<line x1="48.45" x2="53.45" y1="427.93" y2="427.93" stroke="#111" stroke-width="1.3"/>
<line x1="46.35" x2="53.45" y1="410" y2="410" stroke="#111" stroke-width="1.4"/>
<text x="42.9" y="413.4" class="s" font-size="13.5" fill="#111" text-anchor="end">200</text>
<line x1="46.35" x2="53.45" y1="445.85" y2="445.85" stroke="#111" stroke-width="1.4"/>
<text x="42.9" y="449.25" class="s" font-size="13.5" fill="#111" text-anchor="end">100</text>
<line x1="46.35" x2="53.45" y1="481.7" y2="481.7" stroke="#111" stroke-width="1.4"/>
<text x="39.9" y="485.1" class="s" font-size="13.5" fill="#111" text-anchor="end">0</text>
<line x1="46.35" x2="53.45" y1="517.55" y2="517.55" stroke="#111" stroke-width="1.4"/>
<text x="42.9" y="520.95" class="s" font-size="13.5" fill="#111" text-anchor="end">-100</text>
<line x1="46.35" x2="53.45" y1="553.4" y2="553.4" stroke="#111" stroke-width="1.4"/>
<text x="42.9" y="556.8" class="s" font-size="13.5" fill="#111" text-anchor="end">-200</text>
<line x1="62.86" x2="62.86" y1="553.3" y2="556.8" stroke="#111" stroke-width="1.4"/>
<line x1="73.91" x2="73.91" y1="553.3" y2="556.8" stroke="#111" stroke-width="1.4"/>
<line x1="84.96" x2="84.96" y1="553.3" y2="561.7" stroke="#111" stroke-width="1.4"/>
<line x1="96.01" x2="96.01" y1="553.3" y2="556.8" stroke="#111" stroke-width="1.4"/>
<line x1="107.06" x2="107.06" y1="553.3" y2="556.8" stroke="#111" stroke-width="1.4"/>
<line x1="118.12" x2="118.12" y1="553.3" y2="556.8" stroke="#111" stroke-width="1.4"/>
<line x1="129.17" x2="129.17" y1="553.3" y2="556.8" stroke="#111" stroke-width="1.4"/>
<line x1="140.22" x2="140.22" y1="553.3" y2="561.7" stroke="#111" stroke-width="1.4"/>
<line x1="151.27" x2="151.27" y1="553.3" y2="556.8" stroke="#111" stroke-width="1.4"/>
<line x1="162.32" x2="162.32" y1="553.3" y2="556.8" stroke="#111" stroke-width="1.4"/>
<line x1="173.38" x2="173.38" y1="553.3" y2="556.8" stroke="#111" stroke-width="1.4"/>
<line x1="184.43" x2="184.43" y1="553.3" y2="556.8" stroke="#111" stroke-width="1.4"/>
<line x1="195.48" x2="195.48" y1="553.3" y2="561.7" stroke="#111" stroke-width="1.4"/>
<line x1="206.53" x2="206.53" y1="553.3" y2="556.8" stroke="#111" stroke-width="1.4"/>
<line x1="217.58" x2="217.58" y1="553.3" y2="556.8" stroke="#111" stroke-width="1.4"/>
<line x1="228.64" x2="228.64" y1="553.3" y2="556.8" stroke="#111" stroke-width="1.4"/>
<line x1="239.69" x2="239.69" y1="553.3" y2="556.8" stroke="#111" stroke-width="1.4"/>
<line x1="250.74" x2="250.74" y1="553.3" y2="561.7" stroke="#111" stroke-width="1.4"/>
<line x1="261.79" x2="261.79" y1="553.3" y2="556.8" stroke="#111" stroke-width="1.4"/>
<line x1="272.84" x2="272.84" y1="553.3" y2="556.8" stroke="#111" stroke-width="1.4"/>
<line x1="283.9" x2="283.9" y1="553.3" y2="556.8" stroke="#111" stroke-width="1.4"/>
<line x1="294.95" x2="294.95" y1="553.3" y2="556.8" stroke="#111" stroke-width="1.4"/>
<line x1="306" x2="306" y1="553.3" y2="561.7" stroke="#111" stroke-width="1.4"/>
<line x1="317.05" x2="317.05" y1="553.3" y2="556.8" stroke="#111" stroke-width="1.4"/>
<line x1="328.1" x2="328.1" y1="553.3" y2="556.8" stroke="#111" stroke-width="1.4"/>
<line x1="339.16" x2="339.16" y1="553.3" y2="556.8" stroke="#111" stroke-width="1.4"/>
<line x1="350.21" x2="350.21" y1="553.3" y2="556.8" stroke="#111" stroke-width="1.4"/>
<line x1="361.26" x2="361.26" y1="553.3" y2="561.7" stroke="#111" stroke-width="1.4"/>
<line x1="372.31" x2="372.31" y1="553.3" y2="556.8" stroke="#111" stroke-width="1.4"/>
<line x1="383.36" x2="383.36" y1="553.3" y2="556.8" stroke="#111" stroke-width="1.4"/>
<line x1="394.42" x2="394.42" y1="553.3" y2="556.8" stroke="#111" stroke-width="1.4"/>
<line x1="405.47" x2="405.47" y1="553.3" y2="556.8" stroke="#111" stroke-width="1.4"/>
<line x1="416.52" x2="416.52" y1="553.3" y2="561.7" stroke="#111" stroke-width="1.4"/>
<line x1="427.57" x2="427.57" y1="553.3" y2="556.8" stroke="#111" stroke-width="1.4"/>
<line x1="438.62" x2="438.62" y1="553.3" y2="556.8" stroke="#111" stroke-width="1.4"/>
<line x1="449.68" x2="449.68" y1="553.3" y2="556.8" stroke="#111" stroke-width="1.4"/>
<line x1="460.73" x2="460.73" y1="553.3" y2="556.8" stroke="#111" stroke-width="1.4"/>
<line x1="471.78" x2="471.78" y1="553.3" y2="561.7" stroke="#111" stroke-width="1.4"/>
<line x1="482.83" x2="482.83" y1="553.3" y2="556.8" stroke="#111" stroke-width="1.4"/>
<line x1="493.88" x2="493.88" y1="553.3" y2="556.8" stroke="#111" stroke-width="1.4"/>
<line x1="504.94" x2="504.94" y1="553.3" y2="556.8" stroke="#111" stroke-width="1.4"/>
<line x1="515.99" x2="515.99" y1="553.3" y2="556.8" stroke="#111" stroke-width="1.4"/>
<line x1="527.04" x2="527.04" y1="553.3" y2="561.7" stroke="#111" stroke-width="1.4"/>
<line x1="538.09" x2="538.09" y1="553.3" y2="556.8" stroke="#111" stroke-width="1.4"/>
<line x1="549.14" x2="549.14" y1="553.3" y2="556.8" stroke="#111" stroke-width="1.4"/>
<line x1="560.2" x2="560.2" y1="553.3" y2="556.8" stroke="#111" stroke-width="1.4"/>
<line x1="571.25" x2="571.25" y1="553.3" y2="556.8" stroke="#111" stroke-width="1.4"/>
<line x1="582.3" x2="582.3" y1="553.3" y2="561.7" stroke="#111" stroke-width="1.4"/>
<line x1="593.35" x2="593.35" y1="553.3" y2="556.8" stroke="#111" stroke-width="1.4"/>
<line x1="604.4" x2="604.4" y1="553.3" y2="556.8" stroke="#111" stroke-width="1.4"/>
<line x1="615.46" x2="615.46" y1="553.3" y2="556.8" stroke="#111" stroke-width="1.4"/>
<line x1="626.51" x2="626.51" y1="553.3" y2="556.8" stroke="#111" stroke-width="1.4"/>
<line x1="637.56" x2="637.56" y1="553.3" y2="561.7" stroke="#111" stroke-width="1.4"/>
<line x1="648.61" x2="648.61" y1="553.3" y2="556.8" stroke="#111" stroke-width="1.4"/>
<line x1="659.66" x2="659.66" y1="553.3" y2="556.8" stroke="#111" stroke-width="1.4"/>
<line x1="670.72" x2="670.72" y1="553.3" y2="556.8" stroke="#111" stroke-width="1.4"/>
<line x1="681.77" x2="681.77" y1="553.3" y2="556.8" stroke="#111" stroke-width="1.4"/>
<line x1="692.82" x2="692.82" y1="553.3" y2="556.8" stroke="#111" stroke-width="1.4"/>
<text x="84.96" y="572.5" class="s" font-size="13.6" fill="#111" text-anchor="middle">10</text>
<text x="140.22" y="572.5" class="s" font-size="13.6" fill="#111" text-anchor="middle">15</text>
<text x="195.48" y="572.5" class="s" font-size="13.6" fill="#111" text-anchor="middle">20</text>
<text x="250.74" y="572.5" class="s" font-size="13.6" fill="#111" text-anchor="middle">25</text>
<text x="306" y="572.5" class="s" font-size="13.6" fill="#111" text-anchor="middle">30</text>
<text x="361.26" y="572.5" class="s" font-size="13.6" fill="#111" text-anchor="middle">35</text>
<text x="416.52" y="572.5" class="s" font-size="13.6" fill="#111" text-anchor="middle">40</text>
<text x="471.78" y="572.5" class="s" font-size="13.6" fill="#111" text-anchor="middle">45</text>
<text x="527.04" y="572.5" class="s" font-size="13.6" fill="#111" text-anchor="middle">50</text>
<text x="582.3" y="572.5" class="s" font-size="13.6" fill="#111" text-anchor="middle">55</text>
<text x="637.56" y="572.5" class="s" font-size="13.6" fill="#111" text-anchor="middle">60</text>
<text x="5.6" y="401.5" class="s" font-weight="bold" font-size="22.6" fill="#000">c</text>
<text x="52.6" y="404.5" class="s" font-size="16.7" fill="#111">ETR (8-65)</text>
<text x="348.8" y="587.6" class="s" font-size="16.7" fill="#111" text-anchor="middle">Residue number</text>
<text transform="translate(12.7,485.4) rotate(-90)" class="s" font-size="16.7" fill="#111" text-anchor="middle">Torsion angles (<tspan font-size="9.5" dy="-4.6" dx="1.4">°</tspan><tspan dy="4.6" dx="1.4">)</tspan></text>
<rect x="61" y="413.7" width="27.3" height="26.2" rx="1" fill="#cccccc" stroke="#4a4a4a" stroke-width="1.3"/>
<rect x="65.6" y="418.3" width="4.6" height="4.6" fill="#dedede" stroke="#333" stroke-width="1.1"/>
<rect x="65.1" y="430.5" width="5.6" height="5.4" fill="#000"/>
<text x="74.3" y="425" class="r" font-size="12" fill="#333">ϕ</text>
<text x="75" y="435.6" class="r" font-size="10.5" fill="#222">ψ</text>
<path d="M468 398.25H542V394.5L553.8 401.2L542 407.9V404.7H468Z" fill="#5e5e5e"/>
<text x="504.2" y="393.6" class="s" font-size="12.2" fill="#333" text-anchor="middle">β1</text>
<path d="M580 398.25H608.6V394.5L621 401.2L608.6 407.9V404.7H580Z" fill="#5e5e5e"/>
<text x="597.6" y="393.6" class="s" font-size="12.2" fill="#333" text-anchor="middle">β2</text>
<path d="M645.3 398.25H675V394.5L687.8 401.2L675 407.9V404.7H645.3Z" fill="#5e5e5e"/>
<text x="663.2" y="393.6" class="s" font-size="12.2" fill="#333" text-anchor="middle">β3</text>
<text x="312.6" y="622" class="s" font-weight="bold" font-size="22" fill="#000">d</text>
<circle cx="383.4" cy="613.2" r="4.85" fill="#fff" stroke="#111" stroke-width="1.15"/>
<text x="383.4" y="615.9" class="s" font-size="7.2" fill="#111" text-anchor="middle">L</text>
<circle cx="394.44" cy="613.2" r="4.85" fill="#fff" stroke="#111" stroke-width="1.15"/>
<text x="394.44" y="615.9" class="s" font-size="7.2" fill="#111" text-anchor="middle">R</text>
<circle cx="405.49" cy="613.2" r="4.85" fill="#fff" stroke="#111" stroke-width="1.15"/>
<text x="405.49" y="615.9" class="s" font-size="7.2" fill="#111" text-anchor="middle">L</text>
<circle cx="416.53" cy="613.2" r="4.85" fill="#fff" stroke="#111" stroke-width="1.15"/>
<text x="416.53" y="615.9" class="s" font-size="7.2" fill="#111" text-anchor="middle">A</text>
<circle cx="427.58" cy="613.2" r="4.85" fill="#fff" stroke="#111" stroke-width="1.15"/>
<text x="427.58" y="615.9" class="s" font-size="7.2" fill="#111" text-anchor="middle">A</text>
<circle cx="438.62" cy="613.2" r="4.85" fill="#fff" stroke="#111" stroke-width="1.15"/>
<text x="438.62" y="615.9" class="s" font-size="7.2" fill="#111" text-anchor="middle">Y</text>
<circle cx="449.67" cy="613.2" r="4.85" fill="#fff" stroke="#111" stroke-width="1.15"/>
<text x="449.67" y="615.9" class="s" font-size="7.2" fill="#111" text-anchor="middle">A</text>
<circle cx="460.71" cy="613.2" r="4.85" fill="#fff" stroke="#111" stroke-width="1.15"/>
<text x="460.71" y="615.9" class="s" font-size="7.2" fill="#111" text-anchor="middle">A</text>
<circle cx="471.76" cy="613.2" r="4.85" fill="#fff" stroke="#111" stroke-width="1.15"/>
<text x="471.76" y="615.9" class="s" font-size="7.2" fill="#111" text-anchor="middle">N</text>
<circle cx="482.8" cy="613.2" r="4.85" fill="#fff" stroke="#111" stroke-width="1.15"/>
<text x="482.8" y="615.9" class="s" font-size="7.2" fill="#111" text-anchor="middle">I</text>
<circle cx="493.85" cy="613.2" r="4.85" fill="#fff" stroke="#111" stroke-width="1.15"/>
<text x="493.85" y="615.9" class="s" font-size="7.2" fill="#111" text-anchor="middle">V</text>
<circle cx="504.89" cy="613.2" r="4.85" fill="#fff" stroke="#111" stroke-width="1.15"/>
<text x="504.89" y="615.9" class="s" font-size="7.2" fill="#111" text-anchor="middle">N</text>
<circle cx="515.94" cy="613.2" r="4.85" fill="#fff" stroke="#111" stroke-width="1.15"/>
<text x="515.94" y="615.9" class="s" font-size="7.2" fill="#111" text-anchor="middle">V</text>
<circle cx="526.99" cy="613.2" r="4.85" fill="#fff" stroke="#111" stroke-width="1.15"/>
<text x="526.99" y="615.9" class="s" font-size="7.2" fill="#111" text-anchor="middle">S</text>
<circle cx="538.03" cy="613.2" r="4.85" fill="#fff" stroke="#111" stroke-width="1.15"/>
<text x="538.03" y="615.9" class="s" font-size="7.2" fill="#111" text-anchor="middle">L</text>
<circle cx="549.08" cy="613.2" r="4.85" fill="#fff" stroke="#111" stroke-width="1.15"/>
<text x="549.08" y="615.9" class="s" font-size="7.2" fill="#111" text-anchor="middle">V</text>
<circle cx="560.12" cy="613.2" r="4.85" fill="#fff" stroke="#111" stroke-width="1.15"/>
<text x="560.12" y="615.9" class="s" font-size="7.2" fill="#111" text-anchor="middle">K</text>
<circle cx="571.16" cy="613.2" r="4.85" fill="#fff" stroke="#111" stroke-width="1.15"/>
<text x="571.16" y="615.9" class="s" font-size="7.2" fill="#111" text-anchor="middle">P</text>
<circle cx="582.21" cy="613.2" r="4.85" fill="#fff" stroke="#111" stroke-width="1.15"/>
<text x="582.21" y="615.9" class="s" font-size="7.2" fill="#111" text-anchor="middle">S</text>
<circle cx="593.25" cy="613.2" r="4.85" fill="#fff" stroke="#111" stroke-width="1.15"/>
<text x="593.25" y="615.9" class="s" font-size="7.2" fill="#111" text-anchor="middle">F</text>
<circle cx="604.3" cy="613.2" r="4.85" fill="#fff" stroke="#8a8a8a" stroke-width="1.15"/>
<text x="604.3" y="615.9" class="s" font-size="7.2" fill="#8a8a8a" text-anchor="middle">Y</text>
<circle cx="615.35" cy="613.2" r="4.85" fill="#fff" stroke="#111" stroke-width="1.15"/>
<text x="615.35" y="615.9" class="s" font-size="7.2" fill="#111" text-anchor="middle">V</text>
<circle cx="626.39" cy="613.2" r="4.85" fill="#fff" stroke="#111" stroke-width="1.15"/>
<text x="626.39" y="615.9" class="s" font-size="7.2" fill="#111" text-anchor="middle">Y</text>
<circle cx="637.43" cy="613.2" r="4.85" fill="#fff" stroke="#111" stroke-width="1.15"/>
<text x="637.43" y="615.9" class="s" font-size="7.2" fill="#111" text-anchor="middle">S</text>
<circle cx="648.48" cy="613.2" r="4.85" fill="#fff" stroke="#111" stroke-width="1.15"/>
<text x="648.48" y="615.9" class="s" font-size="7.2" fill="#111" text-anchor="middle">R</text>
<circle cx="659.52" cy="613.2" r="4.85" fill="#fff" stroke="#111" stroke-width="1.15"/>
<text x="659.52" y="615.9" class="s" font-size="7.2" fill="#111" text-anchor="middle">V</text>
<circle cx="670.57" cy="613.2" r="4.85" fill="#fff" stroke="#111" stroke-width="1.15"/>
<text x="670.57" y="615.9" class="s" font-size="7.2" fill="#111" text-anchor="middle">K</text>
<circle cx="681.62" cy="613.2" r="4.85" fill="#fff" stroke="#111" stroke-width="1.15"/>
<text x="681.62" y="615.9" class="s" font-size="7.2" fill="#111" text-anchor="middle">N</text>
<circle cx="692.66" cy="613.2" r="4.85" fill="#fff" stroke="#111" stroke-width="1.15"/>
<text x="692.66" y="615.9" class="s" font-size="7.2" fill="#111" text-anchor="middle">L</text>
<text x="417.03" y="626.8" class="s" font-size="9.7" fill="#111" text-anchor="middle">40</text>
<text x="472.26" y="626.8" class="s" font-size="9.7" fill="#111" text-anchor="middle">45</text>
<text x="527.49" y="626.8" class="s" font-size="9.7" fill="#111" text-anchor="middle">50</text>
<text x="582.71" y="626.8" class="s" font-size="9.7" fill="#111" text-anchor="middle">55</text>
<text x="637.93" y="626.8" class="s" font-size="9.7" fill="#111" text-anchor="middle">60</text>
<polyline points="575.2,642.3 575.7,641.31 576.2,640.3 576.7,639.3 577.2,638.34 577.7,637.44 578.2,636.65 578.7,635.97 579.2,635.42 579.7,635.03 580.2,634.81 580.7,634.75 581.19,634.87 581.69,635.16 582.19,635.61 582.69,636.21 583.19,636.94 583.69,637.78 584.19,638.7 584.69,639.68 585.19,640.68 585.69,641.69 586.19,642.67 586.69,643.58 587.19,644.41 587.69,645.13 588.19,645.72 588.69,646.16 589.19,646.44 589.69,646.55 590.19,646.48 590.69,646.25 591.19,645.85 591.69,645.29 592.19,644.6 592.69,643.8 593.18,642.9 593.68,641.94 594.18,640.94 594.68,639.93 595.18,638.94 595.68,638 596.18,637.14 596.68,636.38 597.18,635.75 597.68,635.26 598.18,634.93 598.68,634.77 599.18,634.78 599.68,634.96 600.18,635.31 600.68,635.82 601.18,636.46 601.68,637.24 602.18,638.11 602.68,639.05 603.18,640.05 603.68,641.06 604.18,642.06 604.67,643.01 605.17,643.9 605.67,644.69 606.17,645.37 606.67,645.9 607.17,646.28 607.67,646.5 608.17,646.54 608.67,646.42 609.17,646.12 609.67,645.66 610.17,645.05 610.67,644.32 611.17,643.48 611.67,642.55 612.17,641.57 612.67,640.56 613.17,639.56 613.67,638.58 614.17,637.67 614.67,636.85 615.17,636.13 615.67,635.55 616.17,635.12 616.66,634.85 617.16,634.75 617.66,634.82 618.16,635.07 618.66,635.48 619.16,636.04 619.66,636.74 620.16,637.55 620.66,638.45 621.16,639.42 621.66,640.42 622.16,641.43 622.66,642.41 623.16,643.35 623.66,644.21 624.16,644.96 624.66,645.58 625.16,646.06 625.66,646.38 626.16,646.54 626.66,646.52 627.16,646.33 627.66,645.97 628.15,645.45 628.65,644.8 629.15,644.02 629.65,643.14 630.15,642.2 630.65,641.2 631.15,640.19 631.65,639.19 632.15,638.24 632.65,637.35 633.15,636.57 633.65,635.9 634.15,635.37 634.65,635 635.15,634.79 635.65,634.76 636.15,634.9 636.65,635.2 637.15,635.67 637.65,636.28 638.15,637.02 638.65,637.87 639.15,638.8 639.65,639.78 640.14,640.79 640.64,641.8 641.14,642.77 641.64,643.68 642.14,644.5 642.64,645.2 643.14,645.78 643.64,646.2 644.14,646.46 644.64,646.55 645.14,646.47 645.64,646.21 646.14,645.8 646.64,645.23 647.14,644.52 647.64,643.71 648.14,642.8 648.64,641.83 649.14,640.83 649.64,639.82 650.14,638.83 650.64,637.9 651.14,637.05 651.63,636.31 652.13,635.69 652.63,635.22 653.13,634.9 653.63,634.76 654.13,634.79 654.63,634.99 655.13,635.36 655.63,635.88 656.13,636.54 656.63,637.32 657.13,638.2 657.63,639.16 658.13,640.15 658.63,641.16 659.13,642.16 659.63,643.11 660.13,643.99 660.63,644.77 661.13,645.43 661.63,645.95 662.13,646.32 662.63,646.51 663.13,646.54 663.62,646.39 664.12,646.08 664.62,645.6 665.12,644.98 665.62,644.23 666.12,643.38 666.62,642.45 667.12,641.46 667.62,640.46 668.12,639.45 668.62,638.48 669.12,637.58 669.62,636.76 670.12,636.06 670.62,635.5 671.12,635.08 671.62,634.83 672.12,634.75 672.62,634.84 673.12,635.11 673.62,635.53 674.12,636.11 674.62,636.82 675.11,637.64 675.61,638.55 676.11,639.52 676.61,640.53 677.11,641.53 677.61,642.52 678.11,643.44 678.61,644.29 679.11,645.03 679.61,645.64 680.11,646.1 680.61,646.41 681.11,646.54 681.61,646.51 682.11,646.3 682.61,645.92 683.11,645.39 683.61,644.72 684.11,643.93 684.61,643.05 685.11,642.09 685.61,641.09 686.11,640.08 686.61,639.09 687.1,638.14 687.6,637.27 688.1,636.49 688.6,635.84 689.1,635.33 689.6,634.97 690.1,634.78 690.6,634.76 691.1,634.92 691.6,635.24 692.1,635.73 692.6,636.35" fill="none" stroke="#cf2161" stroke-width="2.0" stroke-linecap="round" stroke-linejoin="round"/>
<polyline points="549.7,664.35 550.2,663.36 550.7,662.35 551.19,661.35 551.69,660.4 552.19,659.51 552.69,658.71 553.19,658.03 553.69,657.48 554.18,657.09 554.68,656.86 555.18,656.8 555.68,656.92 556.18,657.2 556.68,657.64 557.17,658.23 557.67,658.96 558.17,659.79 558.67,660.7 559.17,661.68 559.67,662.68 560.16,663.69 560.66,664.66 561.16,665.58 561.66,666.42 562.16,667.14 562.66,667.74 563.15,668.19 563.65,668.48 564.15,668.6 564.65,668.54 565.15,668.32 565.65,667.94 566.14,667.4 566.64,666.72 567.14,665.92 567.64,665.04 568.14,664.08 568.64,663.08 569.13,662.07 569.63,661.09 570.13,660.14 570.63,659.27 571.13,658.51 571.63,657.86 572.12,657.36 572.62,657.01 573.12,656.83 573.62,656.82 574.12,656.98 574.62,657.31 575.11,657.79 575.61,658.42 576.11,659.18 576.61,660.03 577.11,660.97 577.61,661.95 578.1,662.96 578.6,663.96 579.1,664.92 579.6,665.82 580.1,666.63 580.6,667.32 581.09,667.88 581.59,668.28 582.09,668.53 582.59,668.6 583.09,668.5 583.59,668.23 584.08,667.8 584.58,667.22 585.08,666.51 585.58,665.69 586.08,664.78 586.58,663.81 587.07,662.8 587.57,661.8 588.07,660.82 588.57,659.89 589.07,659.05 589.56,658.32 590.06,657.71 590.56,657.25 591.06,656.94 591.56,656.81 592.06,656.84 592.55,657.05 593.05,657.43 593.55,657.95 594.05,658.62 594.55,659.4 595.05,660.28 595.54,661.24 596.04,662.23 596.54,663.24 597.04,664.23 597.54,665.18 598.04,666.05 598.53,666.83 599.03,667.49 599.53,668.01 600.03,668.37 600.53,668.56 601.03,668.59 601.52,668.44 602.02,668.13 602.52,667.66 603.02,667.04 603.52,666.29 604.02,665.44 604.51,664.52 605.01,663.53 605.51,662.53 606.01,661.52 606.51,660.56 607.01,659.65 607.5,658.84 608,658.13 608.5,657.56 609,657.15 609.5,656.89 610,656.8 610.49,656.88 610.99,657.14 611.49,657.56 611.99,658.12 612.49,658.82 612.99,659.64 613.48,660.54 613.98,661.51 614.48,662.51 614.98,663.52 615.48,664.5 615.98,665.43 616.47,666.28 616.97,667.03 617.47,667.65 617.97,668.12 618.47,668.44 618.97,668.59 619.46,668.57 619.96,668.37 620.46,668.01 620.96,667.5 621.46,666.84 621.96,666.07 622.45,665.19 622.95,664.25 623.45,663.26 623.95,662.25 624.45,661.25 624.94,660.3 625.44,659.42 625.94,658.63 626.44,657.96 626.94,657.43 627.44,657.06 627.93,656.85 628.43,656.81 628.93,656.94 629.43,657.24 629.93,657.7 630.43,658.3 630.92,659.04 631.42,659.88 631.92,660.8 632.42,661.78 632.92,662.79 633.42,663.79 633.91,664.76 634.41,665.67 634.91,666.5 635.41,667.21 635.91,667.79 636.41,668.23 636.9,668.5 637.4,668.6 637.9,668.53 638.4,668.29 638.9,667.89 639.4,667.33 639.89,666.64 640.39,665.84 640.89,664.94 641.39,663.98 641.89,662.98 642.39,661.97 642.88,660.98 643.38,660.05 643.88,659.19 644.38,658.43 644.88,657.8 645.38,657.31 645.87,656.98 646.37,656.82 646.87,656.83 647.37,657 647.87,657.35 648.37,657.85 648.86,658.49 649.36,659.26 649.86,660.13 650.36,661.07 650.86,662.06 651.36,663.07 651.85,664.06 652.35,665.02 652.85,665.91 653.35,666.71 653.85,667.38 654.35,667.93 654.84,668.32 655.34,668.54 655.84,668.6 656.34,668.48 656.84,668.19 657.34,667.75 657.83,667.15 658.33,666.43 658.83,665.6 659.33,664.68 659.83,663.7 660.33,662.7 660.82,661.7 661.32,660.72 661.82,659.8 662.32,658.97 662.82,658.25 663.31,657.65 663.81,657.21 664.31,656.92 664.81,656.8 665.31,656.86 665.81,657.08 666.3,657.47 666.8,658.02 667.3,658.69 667.8,659.49 668.3,660.38 668.8,661.34 669.29,662.33 669.79,663.34 670.29,664.33 670.79,665.27 671.29,666.14 671.79,666.91 672.28,667.55 672.78,668.05 673.28,668.4 673.78,668.57 674.28,668.58 674.78,668.42 675.27,668.09 675.77,667.6 676.27,666.97 676.77,666.21 677.27,665.35 677.77,664.42 678.26,663.43 678.76,662.42 679.26,661.42 679.76,660.46 680.26,659.56 680.76,658.76 681.25,658.07 681.75,657.51 682.25,657.11 682.75,656.87 683.25,656.8 683.75,656.9 684.24,657.17 684.74,657.61 685.24,658.19 685.74,658.9 686.24,659.73 686.74,660.64 687.23,661.61 687.73,662.61 688.23,663.62 688.73,664.6 689.23,665.52 689.73,666.36 690.22,667.1 690.72,667.7 691.22,668.16 691.72,668.46 692.22,668.59 692.72,668.55 693.21,668.34 693.71,667.97 694.21,667.44 694.71,666.77 695.21,665.98 695.71,665.1 696.2,664.15 696.7,663.15 697.2,662.14" fill="none" stroke="#cf2161" stroke-width="2.0" stroke-linecap="round" stroke-linejoin="round"/>
<polyline points="550.4,688.15 550.9,687.16 551.4,686.15 551.9,685.15 552.39,684.2 552.89,683.3 553.39,682.51 553.89,681.83 554.39,681.28 554.89,680.89 555.38,680.66 555.88,680.6 556.38,680.72 556.88,681 557.38,681.44 557.88,682.04 558.37,682.76 558.87,683.59 559.37,684.51 559.87,685.48 560.37,686.48 560.87,687.49 561.36,688.47 561.86,689.38 562.36,690.22 562.86,690.94 563.36,691.54 563.86,691.99 564.35,692.28 564.85,692.4 565.35,692.34 565.85,692.12 566.35,691.73 566.85,691.19 567.34,690.52 567.84,689.72 568.34,688.83 568.84,687.88 569.34,686.88 569.84,685.87 570.33,684.88 570.83,683.94 571.33,683.07 571.83,682.3 572.33,681.66 572.83,681.16 573.32,680.81 573.82,680.63 574.32,680.62 574.82,680.78 575.32,681.11 575.82,681.6 576.31,682.23 576.81,682.98 577.31,683.84 577.81,684.77 578.31,685.76 578.81,686.77 579.3,687.77 579.8,688.73 580.3,689.63 580.8,690.43 581.3,691.12 581.8,691.68 582.3,692.09 582.79,692.33 583.29,692.4 583.79,692.3 584.29,692.03 584.79,691.6 585.29,691.02 585.78,690.3 586.28,689.48 586.78,688.57 587.28,687.6 587.78,686.6 588.28,685.59 588.77,684.61 589.27,683.69 589.77,682.85 590.27,682.11 590.77,681.5 591.27,681.04 591.76,680.74 592.26,680.61 592.76,680.65 593.26,680.85 593.76,681.23 594.26,681.76 594.75,682.42 595.25,683.21 595.75,684.09 596.25,685.04 596.75,686.04 597.25,687.05 597.74,688.04 598.24,688.99 598.74,689.86 599.24,690.64 599.74,691.29 600.24,691.81 600.73,692.17 601.23,692.37 601.73,692.39 602.23,692.24 602.73,691.92 603.23,691.45 603.72,690.83 604.22,690.08 604.72,689.23 605.22,688.3 605.72,687.32 606.22,686.31 606.71,685.31 607.21,684.35 607.71,683.44 608.21,682.63 608.71,681.93 609.21,681.36 609.7,680.94 610.2,680.69 610.7,680.6 611.2,680.69 611.7,680.94 612.2,681.36 612.7,681.93 613.19,682.63 613.69,683.45 614.19,684.35 614.69,685.32 615.19,686.32 615.69,687.33 616.18,688.31 616.68,689.24 617.18,690.09 617.68,690.83 618.18,691.45 618.68,691.93 619.17,692.24 619.67,692.39 620.17,692.36 620.67,692.17 621.17,691.81 621.67,691.29 622.16,690.63 622.66,689.86 623.16,688.98 623.66,688.03 624.16,687.04 624.66,686.03 625.15,685.04 625.65,684.09 626.15,683.2 626.65,682.42 627.15,681.75 627.65,681.23 628.14,680.85 628.64,680.64 629.14,680.61 629.64,680.74 630.14,681.04 630.64,681.51 631.13,682.11 631.63,682.85 632.13,683.69 632.63,684.62 633.13,685.6 633.63,686.6 634.12,687.61 634.62,688.58 635.12,689.49 635.62,690.31 636.12,691.02 636.62,691.6 637.11,692.03 637.61,692.3 638.11,692.4 638.61,692.33 639.11,692.08 639.61,691.68 640.1,691.12 640.6,690.43 641.1,689.62 641.6,688.72" fill="none" stroke="#cf2161" stroke-width="2.0" stroke-linecap="round" stroke-linejoin="round"/>
<polyline points="393.6,664.06 394.1,663.06 394.6,662.05 395.09,661.07 395.59,660.13 396.09,659.28 396.59,658.52 397.09,657.89 397.58,657.41 398.08,657.08 398.58,656.92 399.08,656.93 399.58,657.11 400.07,657.45 400.57,657.96 401.07,658.6 401.57,659.37 402.07,660.24 402.56,661.18 403.06,662.17 403.56,663.17 404.06,664.17 404.55,665.13 405.05,666.01 405.55,666.81 406.05,667.49 406.55,668.03 407.04,668.42 407.54,668.64 408.04,668.7 408.54,668.58 409.04,668.29 409.53,667.85 410.03,667.26 410.53,666.53 411.03,665.7 411.53,664.78 412.02,663.81 412.52,662.81 413.02,661.8 413.52,660.83 414.02,659.91 414.51,659.08 415.01,658.35 415.51,657.76 416.01,657.31 416.51,657.02 417,656.9 417.5,656.96 418,657.18 418.5,657.57 419,658.11 419.49,658.78 419.99,659.58 420.49,660.46 420.99,661.42 421.49,662.42 421.98,663.42 422.48,664.41 422.98,665.35 423.48,666.22 423.97,666.99 424.47,667.64 424.97,668.14 425.47,668.49 425.97,668.67 426.46,668.68 426.96,668.52 427.46,668.2 427.96,667.71 428.46,667.09 428.95,666.33 429.45,665.48 429.95,664.55 430.45,663.56 430.95,662.55 431.44,661.56 431.94,660.59 432.44,659.69 432.94,658.89 433.44,658.19 433.93,657.63 434.43,657.22 434.93,656.98 435.43,656.9 435.93,657 436.42,657.26 436.92,657.69 437.42,658.26 437.92,658.97 438.42,659.79 438.91,660.7 439.41,661.67 439.91,662.67 440.41,663.67 440.91,664.65 441.4,665.58 441.9,666.42 442.4,667.16 442.9,667.77 443.39,668.24 443.89,668.55 444.39,668.69 444.89,668.66 445.39,668.46 445.88,668.09 446.38,667.57 446.88,666.91 447.38,666.13 447.88,665.25 448.37,664.3 448.87,663.31 449.37,662.3 449.87,661.31 450.37,660.36 450.86,659.48 451.36,658.7 451.86,658.04 452.36,657.52 452.86,657.15 453.35,656.94 453.85,656.91 454.35,657.05 454.85,657.35 455.35,657.82 455.84,658.43 456.34,659.16 456.84,660.01 457.34,660.93 457.84,661.91 458.33,662.92 458.83,663.92 459.33,664.89 459.83,665.8 460.33,666.62 460.82,667.33 461.32,667.91 461.82,668.33 462.32,668.6 462.81,668.7 463.31,668.63 463.81,668.38 464.31,667.98 464.81,667.42 465.3,666.73 465.8,665.92 466.3,665.02 466.8,664.06 467.3,663.06 467.79,662.05 468.29,661.07 468.79,660.13 469.29,659.28 469.79,658.52 470.28,657.89 470.78,657.41 471.28,657.08 471.78,656.92 472.28,656.93 472.77,657.11 473.27,657.45 473.77,657.96 474.27,658.6 474.77,659.37 475.26,660.23 475.76,661.17 476.26,662.16 476.76,663.17 477.26,664.17 477.75,665.12 478.25,666.01 478.75,666.81 479.25,667.49 479.75,668.03 480.24,668.42 480.74,668.64 481.24,668.7 481.74,668.58 482.23,668.3 482.73,667.85 483.23,667.26 483.73,666.53 484.23,665.7 484.72,664.79 485.22,663.81 485.72,662.81 486.22,661.81 486.72,660.83 487.21,659.91 487.71,659.08 488.21,658.35 488.71,657.76 489.21,657.31 489.7,657.02 490.2,656.9 490.7,656.96" fill="none" stroke="#cf2161" stroke-width="2.0" stroke-linecap="round" stroke-linejoin="round"/>
<text x="487.5" y="643" class="s" font-size="13.45" fill="#cf2161">SDS micelles</text>
<text x="293.3" y="666" class="s" font-size="13.45" fill="#cf2161">LMPG micelles</text>
<text x="459.3" y="689.6" class="s" font-size="13.45" fill="#cf2161">HPC micelles</text>
</svg>
</body></html>
